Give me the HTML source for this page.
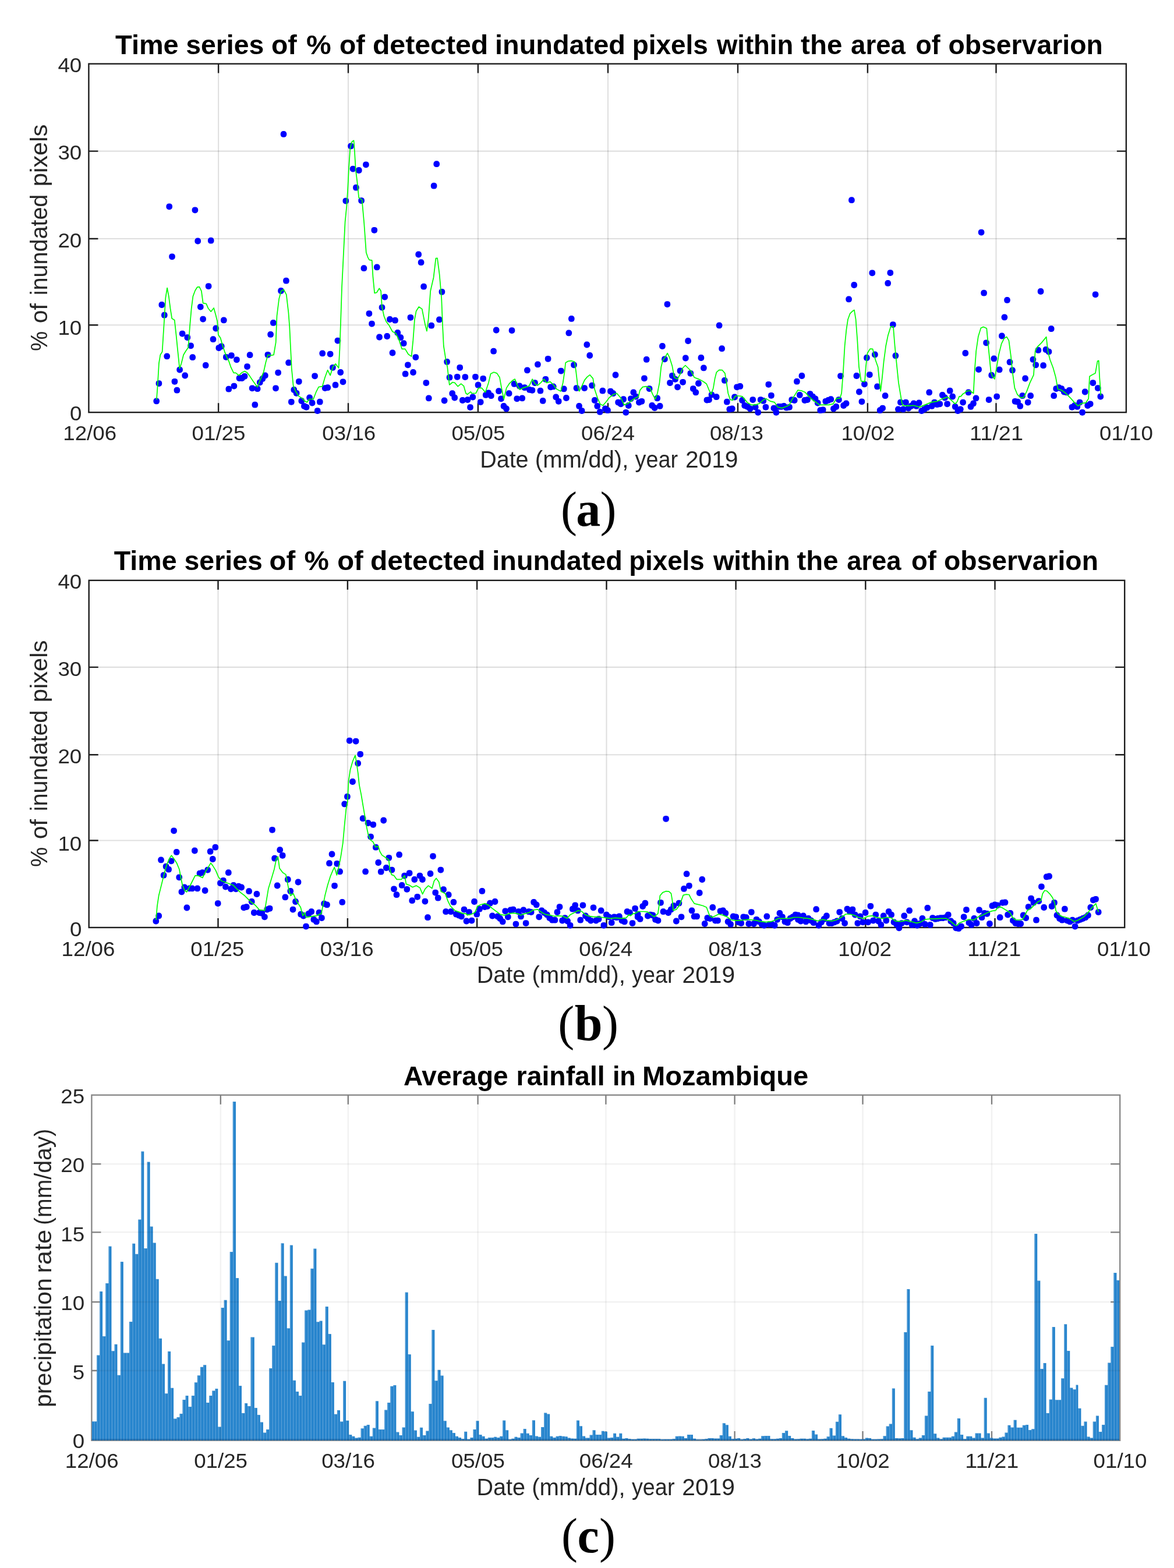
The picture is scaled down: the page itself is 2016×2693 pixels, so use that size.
<!DOCTYPE html>
<html lang="en"><head><meta charset="utf-8"><title>Time series of inundated pixels and rainfall</title>
<style>html,body{margin:0;padding:0;background:#fff}body{width:2016px;height:2693px;overflow:hidden}svg{display:block}</style></head><body>
<svg width="2016" height="2693" viewBox="0 0 2016 2693" role="img" aria-label="Time series of inundated pixels and average rainfall in Mozambique">
<rect width="2016" height="2693" fill="#fff"/>
<g id="chart-a">
<path d="M375.1 109.6V708.2M598 109.6V708.2M820.9 109.6V708.2M1044 109.6V708.2M1267 109.6V708.2M1489.9 109.6V708.2M1710.5 109.6V708.2" stroke="#000" stroke-opacity="0.125" stroke-width="2.1" fill="none"/>
<path d="M152.4 558.2H1933.9M152.4 410H1933.9M152.4 259.6H1933.9" stroke="#000" stroke-opacity="0.125" stroke-width="2.1" fill="none"/>
<path d="M375.1 708.2v-16M375.1 109.6v16M598 708.2v-16M598 109.6v16M820.9 708.2v-16M820.9 109.6v16M1044 708.2v-16M1044 109.6v16M1267 708.2v-16M1267 109.6v16M1489.9 708.2v-16M1489.9 109.6v16M1710.5 708.2v-16M1710.5 109.6v16M152.4 558.2h16M1933.9 558.2h-16M152.4 410h16M1933.9 410h-16M152.4 259.6h16M1933.9 259.6h-16" stroke="#1c1c1c" stroke-width="2.4" fill="none"/>
<rect x="152.4" y="109.6" width="1781.5" height="598.6" stroke="#1c1c1c" stroke-width="2.4" fill="none"/>
<g fill="#0000ff">
<rect x="263.4" y="683.5" width="10.6" height="10.8" rx="4.7"/>
<rect x="267.6" y="653.2" width="10.6" height="10.8" rx="4.7"/>
<rect x="272.5" y="518.1" width="10.6" height="10.8" rx="4.7"/>
<rect x="277" y="535.8" width="10.6" height="10.8" rx="4.7"/>
<rect x="281.4" y="606.5" width="10.6" height="10.8" rx="4.7"/>
<rect x="294.6" y="649.9" width="10.6" height="10.8" rx="4.7"/>
<rect x="298.6" y="664.8" width="10.6" height="10.8" rx="4.7"/>
<rect x="303.3" y="629.7" width="10.6" height="10.8" rx="4.7"/>
<rect x="307.8" y="567.7" width="10.6" height="10.8" rx="4.7"/>
<rect x="312.4" y="639.6" width="10.6" height="10.8" rx="4.7"/>
<rect x="316.5" y="574.2" width="10.6" height="10.8" rx="4.7"/>
<rect x="322.3" y="588.4" width="10.6" height="10.8" rx="4.7"/>
<rect x="325.4" y="608.3" width="10.6" height="10.8" rx="4.7"/>
<rect x="339" y="521.7" width="10.6" height="10.8" rx="4.7"/>
<rect x="343.3" y="542.7" width="10.6" height="10.8" rx="4.7"/>
<rect x="347.9" y="622" width="10.6" height="10.8" rx="4.7"/>
<rect x="352.8" y="486.2" width="10.6" height="10.8" rx="4.7"/>
<rect x="360.7" y="577.3" width="10.6" height="10.8" rx="4.7"/>
<rect x="365.4" y="558.6" width="10.6" height="10.8" rx="4.7"/>
<rect x="370.5" y="592.2" width="10.6" height="10.8" rx="4.7"/>
<rect x="374.9" y="589.4" width="10.6" height="10.8" rx="4.7"/>
<rect x="379" y="544.5" width="10.6" height="10.8" rx="4.7"/>
<rect x="383" y="607.9" width="10.6" height="10.8" rx="4.7"/>
<rect x="387.5" y="662.8" width="10.6" height="10.8" rx="4.7"/>
<rect x="392.1" y="605.2" width="10.6" height="10.8" rx="4.7"/>
<rect x="396.6" y="657.7" width="10.6" height="10.8" rx="4.7"/>
<rect x="401.1" y="612.4" width="10.6" height="10.8" rx="4.7"/>
<rect x="405.7" y="644.1" width="10.6" height="10.8" rx="4.7"/>
<rect x="410.2" y="644.1" width="10.6" height="10.8" rx="4.7"/>
<rect x="414.7" y="640.9" width="10.6" height="10.8" rx="4.7"/>
<rect x="419.2" y="624.2" width="10.6" height="10.8" rx="4.7"/>
<rect x="423.8" y="604.3" width="10.6" height="10.8" rx="4.7"/>
<rect x="427.8" y="661.4" width="10.6" height="10.8" rx="4.7"/>
<rect x="432.5" y="689.8" width="10.6" height="10.8" rx="4.7"/>
<rect x="436.8" y="662.3" width="10.6" height="10.8" rx="4.7"/>
<rect x="441" y="651.4" width="10.6" height="10.8" rx="4.7"/>
<rect x="445.5" y="645.1" width="10.6" height="10.8" rx="4.7"/>
<rect x="450" y="639.6" width="10.6" height="10.8" rx="4.7"/>
<rect x="454.6" y="603.9" width="10.6" height="10.8" rx="4.7"/>
<rect x="459.3" y="569" width="10.6" height="10.8" rx="4.7"/>
<rect x="464" y="549" width="10.6" height="10.8" rx="4.7"/>
<rect x="468.2" y="661.4" width="10.6" height="10.8" rx="4.7"/>
<rect x="472.3" y="634.7" width="10.6" height="10.8" rx="4.7"/>
<rect x="477.2" y="494.1" width="10.6" height="10.8" rx="4.7"/>
<rect x="486.1" y="476.8" width="10.6" height="10.8" rx="4.7"/>
<rect x="490.3" y="617.5" width="10.6" height="10.8" rx="4.7"/>
<rect x="495" y="684.9" width="10.6" height="10.8" rx="4.7"/>
<rect x="499.5" y="664.1" width="10.6" height="10.8" rx="4.7"/>
<rect x="503.8" y="669.9" width="10.6" height="10.8" rx="4.7"/>
<rect x="508" y="649.9" width="10.6" height="10.8" rx="4.7"/>
<rect x="512.5" y="683.1" width="10.6" height="10.8" rx="4.7"/>
<rect x="517.1" y="692.2" width="10.6" height="10.8" rx="4.7"/>
<rect x="285.4" y="349.4" width="10.6" height="10.8" rx="4.7"/>
<rect x="290.2" y="435.4" width="10.6" height="10.8" rx="4.7"/>
<rect x="329.6" y="355.4" width="10.6" height="10.8" rx="4.7"/>
<rect x="334.4" y="408.6" width="10.6" height="10.8" rx="4.7"/>
<rect x="356.9" y="407.8" width="10.6" height="10.8" rx="4.7"/>
<rect x="481.7" y="225" width="10.6" height="10.8" rx="4.7"/>
<rect x="588.5" y="339.7" width="10.6" height="10.8" rx="4.7"/>
<rect x="597.2" y="245.5" width="10.6" height="10.8" rx="4.7"/>
<rect x="600.8" y="284.7" width="10.6" height="10.8" rx="4.7"/>
<rect x="611" y="287.1" width="10.6" height="10.8" rx="4.7"/>
<rect x="606.1" y="316.8" width="10.6" height="10.8" rx="4.7"/>
<rect x="615.3" y="339.2" width="10.6" height="10.8" rx="4.7"/>
<rect x="623.1" y="277.4" width="10.6" height="10.8" rx="4.7"/>
<rect x="520.8" y="693.9" width="10.6" height="10.8" rx="4.7"/>
<rect x="526.3" y="677.6" width="10.6" height="10.8" rx="4.7"/>
<rect x="530.8" y="686.6" width="10.6" height="10.8" rx="4.7"/>
<rect x="535.3" y="640.4" width="10.6" height="10.8" rx="4.7"/>
<rect x="539.9" y="700.2" width="10.6" height="10.8" rx="4.7"/>
<rect x="544" y="684.8" width="10.6" height="10.8" rx="4.7"/>
<rect x="548.4" y="601.5" width="10.6" height="10.8" rx="4.7"/>
<rect x="552.9" y="661.2" width="10.6" height="10.8" rx="4.7"/>
<rect x="557.4" y="660.3" width="10.6" height="10.8" rx="4.7"/>
<rect x="561.8" y="602.7" width="10.6" height="10.8" rx="4.7"/>
<rect x="566.1" y="625.9" width="10.6" height="10.8" rx="4.7"/>
<rect x="570.7" y="655.8" width="10.6" height="10.8" rx="4.7"/>
<rect x="574.6" y="579.7" width="10.6" height="10.8" rx="4.7"/>
<rect x="579.4" y="634.1" width="10.6" height="10.8" rx="4.7"/>
<rect x="583.7" y="650.4" width="10.6" height="10.8" rx="4.7"/>
<rect x="619.6" y="455.3" width="10.6" height="10.8" rx="4.7"/>
<rect x="628.6" y="533.2" width="10.6" height="10.8" rx="4.7"/>
<rect x="633.2" y="550.7" width="10.6" height="10.8" rx="4.7"/>
<rect x="642" y="453.5" width="10.6" height="10.8" rx="4.7"/>
<rect x="646.2" y="573.6" width="10.6" height="10.8" rx="4.7"/>
<rect x="650.7" y="522.7" width="10.6" height="10.8" rx="4.7"/>
<rect x="655.4" y="504.7" width="10.6" height="10.8" rx="4.7"/>
<rect x="659.4" y="572.1" width="10.6" height="10.8" rx="4.7"/>
<rect x="664.1" y="543.1" width="10.6" height="10.8" rx="4.7"/>
<rect x="668.7" y="600.6" width="10.6" height="10.8" rx="4.7"/>
<rect x="673.2" y="544.8" width="10.6" height="10.8" rx="4.7"/>
<rect x="677.5" y="566.1" width="10.6" height="10.8" rx="4.7"/>
<rect x="682.6" y="574.3" width="10.6" height="10.8" rx="4.7"/>
<rect x="687.9" y="584.3" width="10.6" height="10.8" rx="4.7"/>
<rect x="690.8" y="636.8" width="10.6" height="10.8" rx="4.7"/>
<rect x="695.1" y="621.4" width="10.6" height="10.8" rx="4.7"/>
<rect x="699.6" y="539.9" width="10.6" height="10.8" rx="4.7"/>
<rect x="704.2" y="634.1" width="10.6" height="10.8" rx="4.7"/>
<rect x="708.5" y="608.2" width="10.6" height="10.8" rx="4.7"/>
<rect x="717.8" y="445.3" width="10.6" height="10.8" rx="4.7"/>
<rect x="722.3" y="486.8" width="10.6" height="10.8" rx="4.7"/>
<rect x="726.5" y="652.2" width="10.6" height="10.8" rx="4.7"/>
<rect x="731" y="678.5" width="10.6" height="10.8" rx="4.7"/>
<rect x="735.5" y="553.8" width="10.6" height="10.8" rx="4.7"/>
<rect x="749.1" y="543.5" width="10.6" height="10.8" rx="4.7"/>
<rect x="753.6" y="495.9" width="10.6" height="10.8" rx="4.7"/>
<rect x="757.8" y="682.6" width="10.6" height="10.8" rx="4.7"/>
<rect x="762.3" y="616" width="10.6" height="10.8" rx="4.7"/>
<rect x="766.7" y="642.8" width="10.6" height="10.8" rx="4.7"/>
<rect x="771.4" y="670.3" width="10.6" height="10.8" rx="4.7"/>
<rect x="775.4" y="677.6" width="10.6" height="10.8" rx="4.7"/>
<rect x="779.9" y="641.9" width="10.6" height="10.8" rx="4.7"/>
<rect x="784.4" y="625.9" width="10.6" height="10.8" rx="4.7"/>
<rect x="789" y="682.1" width="10.6" height="10.8" rx="4.7"/>
<rect x="793.5" y="642.2" width="10.6" height="10.8" rx="4.7"/>
<rect x="797.7" y="681.2" width="10.6" height="10.8" rx="4.7"/>
<rect x="802.2" y="694.2" width="10.6" height="10.8" rx="4.7"/>
<rect x="806.5" y="676.6" width="10.6" height="10.8" rx="4.7"/>
<rect x="811.1" y="641.9" width="10.6" height="10.8" rx="4.7"/>
<rect x="637.5" y="389.9" width="10.6" height="10.8" rx="4.7"/>
<rect x="713.4" y="431.6" width="10.6" height="10.8" rx="4.7"/>
<rect x="739.8" y="313.8" width="10.6" height="10.8" rx="4.7"/>
<rect x="744.4" y="276.3" width="10.6" height="10.8" rx="4.7"/>
<rect x="815.7" y="655.8" width="10.6" height="10.8" rx="4.7"/>
<rect x="819.9" y="685.2" width="10.6" height="10.8" rx="4.7"/>
<rect x="824.4" y="644.9" width="10.6" height="10.8" rx="4.7"/>
<rect x="828.9" y="673" width="10.6" height="10.8" rx="4.7"/>
<rect x="833.4" y="669.4" width="10.6" height="10.8" rx="4.7"/>
<rect x="838" y="674.3" width="10.6" height="10.8" rx="4.7"/>
<rect x="842.3" y="597.8" width="10.6" height="10.8" rx="4.7"/>
<rect x="846.9" y="561.6" width="10.6" height="10.8" rx="4.7"/>
<rect x="851.2" y="666.3" width="10.6" height="10.8" rx="4.7"/>
<rect x="855.2" y="679.4" width="10.6" height="10.8" rx="4.7"/>
<rect x="859.7" y="692" width="10.6" height="10.8" rx="4.7"/>
<rect x="864.2" y="696.6" width="10.6" height="10.8" rx="4.7"/>
<rect x="868.8" y="670.3" width="10.6" height="10.8" rx="4.7"/>
<rect x="873.7" y="562.2" width="10.6" height="10.8" rx="4.7"/>
<rect x="877.8" y="654" width="10.6" height="10.8" rx="4.7"/>
<rect x="882.4" y="679.4" width="10.6" height="10.8" rx="4.7"/>
<rect x="886.9" y="657.6" width="10.6" height="10.8" rx="4.7"/>
<rect x="891.4" y="678.5" width="10.6" height="10.8" rx="4.7"/>
<rect x="895.6" y="660.3" width="10.6" height="10.8" rx="4.7"/>
<rect x="900.1" y="630.5" width="10.6" height="10.8" rx="4.7"/>
<rect x="904.1" y="664" width="10.6" height="10.8" rx="4.7"/>
<rect x="908.6" y="664.9" width="10.6" height="10.8" rx="4.7"/>
<rect x="913.2" y="652.2" width="10.6" height="10.8" rx="4.7"/>
<rect x="918.1" y="620.5" width="10.6" height="10.8" rx="4.7"/>
<rect x="922.6" y="665.8" width="10.6" height="10.8" rx="4.7"/>
<rect x="926.9" y="683" width="10.6" height="10.8" rx="4.7"/>
<rect x="931.6" y="645.9" width="10.6" height="10.8" rx="4.7"/>
<rect x="935.8" y="610.9" width="10.6" height="10.8" rx="4.7"/>
<rect x="940.3" y="659.4" width="10.6" height="10.8" rx="4.7"/>
<rect x="944.9" y="658.5" width="10.6" height="10.8" rx="4.7"/>
<rect x="949.4" y="676.6" width="10.6" height="10.8" rx="4.7"/>
<rect x="953.9" y="683.9" width="10.6" height="10.8" rx="4.7"/>
<rect x="958.1" y="631.7" width="10.6" height="10.8" rx="4.7"/>
<rect x="963" y="662.5" width="10.6" height="10.8" rx="4.7"/>
<rect x="967.1" y="678.1" width="10.6" height="10.8" rx="4.7"/>
<rect x="971.5" y="566.5" width="10.6" height="10.8" rx="4.7"/>
<rect x="976" y="542" width="10.6" height="10.8" rx="4.7"/>
<rect x="980.2" y="621.4" width="10.6" height="10.8" rx="4.7"/>
<rect x="984.7" y="661.2" width="10.6" height="10.8" rx="4.7"/>
<rect x="989.2" y="692" width="10.6" height="10.8" rx="4.7"/>
<rect x="993.8" y="700.2" width="10.6" height="10.8" rx="4.7"/>
<rect x="998.3" y="661.2" width="10.6" height="10.8" rx="4.7"/>
<rect x="1002.5" y="586.6" width="10.6" height="10.8" rx="4.7"/>
<rect x="1007.4" y="605.1" width="10.6" height="10.8" rx="4.7"/>
<rect x="1011.3" y="656.7" width="10.6" height="10.8" rx="4.7"/>
<rect x="1015.9" y="682.1" width="10.6" height="10.8" rx="4.7"/>
<rect x="1020.4" y="692" width="10.6" height="10.8" rx="4.7"/>
<rect x="1024.9" y="702" width="10.6" height="10.8" rx="4.7"/>
<rect x="1029.5" y="665.8" width="10.6" height="10.8" rx="4.7"/>
<rect x="1034" y="696.6" width="10.6" height="10.8" rx="4.7"/>
<rect x="1038.2" y="699.3" width="10.6" height="10.8" rx="4.7"/>
<rect x="1043.1" y="666.7" width="10.6" height="10.8" rx="4.7"/>
<rect x="1047.6" y="670.3" width="10.6" height="10.8" rx="4.7"/>
<rect x="1051.7" y="638.6" width="10.6" height="10.8" rx="4.7"/>
<rect x="1056.3" y="685.7" width="10.6" height="10.8" rx="4.7"/>
<rect x="1060.8" y="688.4" width="10.6" height="10.8" rx="4.7"/>
<rect x="1065.3" y="680.3" width="10.6" height="10.8" rx="4.7"/>
<rect x="1069.5" y="702.9" width="10.6" height="10.8" rx="4.7"/>
<rect x="1074" y="691.1" width="10.6" height="10.8" rx="4.7"/>
<rect x="1078" y="679.4" width="10.6" height="10.8" rx="4.7"/>
<rect x="1082.5" y="668.5" width="10.6" height="10.8" rx="4.7"/>
<rect x="1086.5" y="675.7" width="10.6" height="10.8" rx="4.7"/>
<rect x="1092.1" y="685.7" width="10.6" height="10.8" rx="4.7"/>
<rect x="1096.6" y="683.9" width="10.6" height="10.8" rx="4.7"/>
<rect x="1101.1" y="644.4" width="10.6" height="10.8" rx="4.7"/>
<rect x="1104.9" y="612" width="10.6" height="10.8" rx="4.7"/>
<rect x="1109.8" y="662.2" width="10.6" height="10.8" rx="4.7"/>
<rect x="1114.4" y="691.1" width="10.6" height="10.8" rx="4.7"/>
<rect x="1118.9" y="695.1" width="10.6" height="10.8" rx="4.7"/>
<rect x="1123.4" y="678.5" width="10.6" height="10.8" rx="4.7"/>
<rect x="1127.9" y="692" width="10.6" height="10.8" rx="4.7"/>
<rect x="1132.1" y="589.1" width="10.6" height="10.8" rx="4.7"/>
<rect x="1136.1" y="611.4" width="10.6" height="10.8" rx="4.7"/>
<rect x="1140.6" y="517.2" width="10.6" height="10.8" rx="4.7"/>
<rect x="1145.2" y="652.2" width="10.6" height="10.8" rx="4.7"/>
<rect x="1149.1" y="639.9" width="10.6" height="10.8" rx="4.7"/>
<rect x="1154.2" y="645.9" width="10.6" height="10.8" rx="4.7"/>
<rect x="1158.2" y="659.4" width="10.6" height="10.8" rx="4.7"/>
<rect x="1162.7" y="631.4" width="10.6" height="10.8" rx="4.7"/>
<rect x="1167.3" y="650.9" width="10.6" height="10.8" rx="4.7"/>
<rect x="1172" y="609.6" width="10.6" height="10.8" rx="4.7"/>
<rect x="1176.3" y="580.1" width="10.6" height="10.8" rx="4.7"/>
<rect x="1180.5" y="635.9" width="10.6" height="10.8" rx="4.7"/>
<rect x="1185" y="662.2" width="10.6" height="10.8" rx="4.7"/>
<rect x="1189.5" y="668.5" width="10.6" height="10.8" rx="4.7"/>
<rect x="1194.1" y="653.1" width="10.6" height="10.8" rx="4.7"/>
<rect x="1198.6" y="609.1" width="10.6" height="10.8" rx="4.7"/>
<rect x="1203.1" y="626.5" width="10.6" height="10.8" rx="4.7"/>
<rect x="1208.6" y="681.7" width="10.6" height="10.8" rx="4.7"/>
<rect x="1212.2" y="681.2" width="10.6" height="10.8" rx="4.7"/>
<rect x="1216.7" y="672.7" width="10.6" height="10.8" rx="4.7"/>
<rect x="1224.9" y="676.3" width="10.6" height="10.8" rx="4.7"/>
<rect x="1229.8" y="553.5" width="10.6" height="10.8" rx="4.7"/>
<rect x="1234.3" y="593.3" width="10.6" height="10.8" rx="4.7"/>
<rect x="1239" y="648" width="10.6" height="10.8" rx="4.7"/>
<rect x="1243" y="684.8" width="10.6" height="10.8" rx="4.7"/>
<rect x="1247.5" y="697.5" width="10.6" height="10.8" rx="4.7"/>
<rect x="1252" y="696.6" width="10.6" height="10.8" rx="4.7"/>
<rect x="1256.2" y="676.6" width="10.6" height="10.8" rx="4.7"/>
<rect x="1260.2" y="659.4" width="10.6" height="10.8" rx="4.7"/>
<rect x="1265.6" y="658" width="10.6" height="10.8" rx="4.7"/>
<rect x="1269.2" y="682.1" width="10.6" height="10.8" rx="4.7"/>
<rect x="1273.4" y="691.1" width="10.6" height="10.8" rx="4.7"/>
<rect x="1278.3" y="693" width="10.6" height="10.8" rx="4.7"/>
<rect x="1282.8" y="696.6" width="10.6" height="10.8" rx="4.7"/>
<rect x="1287.4" y="681.2" width="10.6" height="10.8" rx="4.7"/>
<rect x="1291.9" y="693.9" width="10.6" height="10.8" rx="4.7"/>
<rect x="1296.4" y="702.9" width="10.6" height="10.8" rx="4.7"/>
<rect x="1300.9" y="681.2" width="10.6" height="10.8" rx="4.7"/>
<rect x="1305.5" y="683" width="10.6" height="10.8" rx="4.7"/>
<rect x="1309.6" y="693.9" width="10.6" height="10.8" rx="4.7"/>
<rect x="1314.5" y="654.9" width="10.6" height="10.8" rx="4.7"/>
<rect x="1319.1" y="673.9" width="10.6" height="10.8" rx="4.7"/>
<rect x="1323.6" y="695.7" width="10.6" height="10.8" rx="4.7"/>
<rect x="1327.6" y="702.9" width="10.6" height="10.8" rx="4.7"/>
<rect x="1331.7" y="693" width="10.6" height="10.8" rx="4.7"/>
<rect x="1336.3" y="693" width="10.6" height="10.8" rx="4.7"/>
<rect x="1340.8" y="692" width="10.6" height="10.8" rx="4.7"/>
<rect x="1345.3" y="694.8" width="10.6" height="10.8" rx="4.7"/>
<rect x="1350.2" y="693.9" width="10.6" height="10.8" rx="4.7"/>
<rect x="1354.4" y="681.2" width="10.6" height="10.8" rx="4.7"/>
<rect x="1358.9" y="682.1" width="10.6" height="10.8" rx="4.7"/>
<rect x="1363.1" y="649.8" width="10.6" height="10.8" rx="4.7"/>
<rect x="1368" y="673" width="10.6" height="10.8" rx="4.7"/>
<rect x="1371.6" y="640.1" width="10.6" height="10.8" rx="4.7"/>
<rect x="1376.6" y="682.1" width="10.6" height="10.8" rx="4.7"/>
<rect x="1381.1" y="681.2" width="10.6" height="10.8" rx="4.7"/>
<rect x="1385.7" y="671.2" width="10.6" height="10.8" rx="4.7"/>
<rect x="1390.2" y="675.7" width="10.6" height="10.8" rx="4.7"/>
<rect x="1394.7" y="679.4" width="10.6" height="10.8" rx="4.7"/>
<rect x="1398.9" y="686.6" width="10.6" height="10.8" rx="4.7"/>
<rect x="1403.4" y="699.3" width="10.6" height="10.8" rx="4.7"/>
<rect x="1407.9" y="698.4" width="10.6" height="10.8" rx="4.7"/>
<rect x="1412.5" y="683.9" width="10.6" height="10.8" rx="4.7"/>
<rect x="1417" y="682.1" width="10.6" height="10.8" rx="4.7"/>
<rect x="1421.5" y="680.3" width="10.6" height="10.8" rx="4.7"/>
<rect x="1426.1" y="696.6" width="10.6" height="10.8" rx="4.7"/>
<rect x="1430.6" y="693" width="10.6" height="10.8" rx="4.7"/>
<rect x="1435.1" y="681.2" width="10.6" height="10.8" rx="4.7"/>
<rect x="1438.2" y="640.4" width="10.6" height="10.8" rx="4.7"/>
<rect x="1443.3" y="691.1" width="10.6" height="10.8" rx="4.7"/>
<rect x="1447.8" y="687.5" width="10.6" height="10.8" rx="4.7"/>
<rect x="1452.3" y="508.5" width="10.6" height="10.8" rx="4.7"/>
<rect x="1461.4" y="484.1" width="10.6" height="10.8" rx="4.7"/>
<rect x="1465.6" y="640.1" width="10.6" height="10.8" rx="4.7"/>
<rect x="1470.1" y="667.6" width="10.6" height="10.8" rx="4.7"/>
<rect x="1474.6" y="684.4" width="10.6" height="10.8" rx="4.7"/>
<rect x="1479.1" y="654.4" width="10.6" height="10.8" rx="4.7"/>
<rect x="1483.1" y="609.1" width="10.6" height="10.8" rx="4.7"/>
<rect x="1488" y="638.2" width="10.6" height="10.8" rx="4.7"/>
<rect x="1492.5" y="463.4" width="10.6" height="10.8" rx="4.7"/>
<rect x="1497.1" y="603.6" width="10.6" height="10.8" rx="4.7"/>
<rect x="1501.2" y="658.5" width="10.6" height="10.8" rx="4.7"/>
<rect x="1505.8" y="699.3" width="10.6" height="10.8" rx="4.7"/>
<rect x="1510.3" y="695.7" width="10.6" height="10.8" rx="4.7"/>
<rect x="1514.8" y="674.3" width="10.6" height="10.8" rx="4.7"/>
<rect x="1519.4" y="481" width="10.6" height="10.8" rx="4.7"/>
<rect x="1523.5" y="463.2" width="10.6" height="10.8" rx="4.7"/>
<rect x="1528.1" y="552.2" width="10.6" height="10.8" rx="4.7"/>
<rect x="1532.6" y="605.5" width="10.6" height="10.8" rx="4.7"/>
<rect x="1537.1" y="697.5" width="10.6" height="10.8" rx="4.7"/>
<rect x="1541.1" y="685.7" width="10.6" height="10.8" rx="4.7"/>
<rect x="1545.6" y="697.5" width="10.6" height="10.8" rx="4.7"/>
<rect x="1550.2" y="685.7" width="10.6" height="10.8" rx="4.7"/>
<rect x="1554.7" y="695.7" width="10.6" height="10.8" rx="4.7"/>
<rect x="1559.2" y="692" width="10.6" height="10.8" rx="4.7"/>
<rect x="1563.7" y="687.5" width="10.6" height="10.8" rx="4.7"/>
<rect x="1568.3" y="692" width="10.6" height="10.8" rx="4.7"/>
<rect x="1572.8" y="686.6" width="10.6" height="10.8" rx="4.7"/>
<rect x="1577.3" y="700.2" width="10.6" height="10.8" rx="4.7"/>
<rect x="1581.9" y="697.5" width="10.6" height="10.8" rx="4.7"/>
<rect x="1586.4" y="694.8" width="10.6" height="10.8" rx="4.7"/>
<rect x="1590.4" y="668.5" width="10.6" height="10.8" rx="4.7"/>
<rect x="1594.9" y="692" width="10.6" height="10.8" rx="4.7"/>
<rect x="1599.4" y="685.7" width="10.6" height="10.8" rx="4.7"/>
<rect x="1604" y="689.3" width="10.6" height="10.8" rx="4.7"/>
<rect x="1608.5" y="688.4" width="10.6" height="10.8" rx="4.7"/>
<rect x="1613" y="673" width="10.6" height="10.8" rx="4.7"/>
<rect x="1617.2" y="677.6" width="10.6" height="10.8" rx="4.7"/>
<rect x="1621.3" y="688.4" width="10.6" height="10.8" rx="4.7"/>
<rect x="1625.9" y="665.8" width="10.6" height="10.8" rx="4.7"/>
<rect x="1630.4" y="675.7" width="10.6" height="10.8" rx="4.7"/>
<rect x="1634.9" y="693" width="10.6" height="10.8" rx="4.7"/>
<rect x="1639.5" y="700.2" width="10.6" height="10.8" rx="4.7"/>
<rect x="1644" y="697.5" width="10.6" height="10.8" rx="4.7"/>
<rect x="1648.3" y="685.7" width="10.6" height="10.8" rx="4.7"/>
<rect x="1652.5" y="601.1" width="10.6" height="10.8" rx="4.7"/>
<rect x="1457.1" y="338.3" width="10.6" height="10.8" rx="4.7"/>
<rect x="1679.8" y="393.7" width="10.6" height="10.8" rx="4.7"/>
<rect x="1657.7" y="668.5" width="10.6" height="10.8" rx="4.7"/>
<rect x="1661.7" y="693" width="10.6" height="10.8" rx="4.7"/>
<rect x="1666.2" y="687.5" width="10.6" height="10.8" rx="4.7"/>
<rect x="1670.7" y="678.5" width="10.6" height="10.8" rx="4.7"/>
<rect x="1675.3" y="629.2" width="10.6" height="10.8" rx="4.7"/>
<rect x="1684.3" y="497.8" width="10.6" height="10.8" rx="4.7"/>
<rect x="1688.3" y="583.4" width="10.6" height="10.8" rx="4.7"/>
<rect x="1692.8" y="681.2" width="10.6" height="10.8" rx="4.7"/>
<rect x="1697.4" y="639.1" width="10.6" height="10.8" rx="4.7"/>
<rect x="1701.5" y="610.5" width="10.6" height="10.8" rx="4.7"/>
<rect x="1706.4" y="675.7" width="10.6" height="10.8" rx="4.7"/>
<rect x="1710.9" y="629.5" width="10.6" height="10.8" rx="4.7"/>
<rect x="1715.1" y="571.6" width="10.6" height="10.8" rx="4.7"/>
<rect x="1719.6" y="539.5" width="10.6" height="10.8" rx="4.7"/>
<rect x="1724.2" y="510" width="10.6" height="10.8" rx="4.7"/>
<rect x="1728.7" y="616.5" width="10.6" height="10.8" rx="4.7"/>
<rect x="1733.2" y="630.5" width="10.6" height="10.8" rx="4.7"/>
<rect x="1737.8" y="683.9" width="10.6" height="10.8" rx="4.7"/>
<rect x="1742.3" y="684.8" width="10.6" height="10.8" rx="4.7"/>
<rect x="1746.5" y="692" width="10.6" height="10.8" rx="4.7"/>
<rect x="1750.4" y="674.3" width="10.6" height="10.8" rx="4.7"/>
<rect x="1755.3" y="644.6" width="10.6" height="10.8" rx="4.7"/>
<rect x="1759.9" y="685.7" width="10.6" height="10.8" rx="4.7"/>
<rect x="1764.4" y="674.3" width="10.6" height="10.8" rx="4.7"/>
<rect x="1768.6" y="612" width="10.6" height="10.8" rx="4.7"/>
<rect x="1773.4" y="621.4" width="10.6" height="10.8" rx="4.7"/>
<rect x="1777.6" y="596" width="10.6" height="10.8" rx="4.7"/>
<rect x="1781.8" y="495.1" width="10.6" height="10.8" rx="4.7"/>
<rect x="1786.3" y="622.3" width="10.6" height="10.8" rx="4.7"/>
<rect x="1790.7" y="595.1" width="10.6" height="10.8" rx="4.7"/>
<rect x="1795.7" y="598.7" width="10.6" height="10.8" rx="4.7"/>
<rect x="1799.9" y="559.3" width="10.6" height="10.8" rx="4.7"/>
<rect x="1804.4" y="674.3" width="10.6" height="10.8" rx="4.7"/>
<rect x="1808.4" y="662.2" width="10.6" height="10.8" rx="4.7"/>
<rect x="1812.9" y="660.3" width="10.6" height="10.8" rx="4.7"/>
<rect x="1817.5" y="662.2" width="10.6" height="10.8" rx="4.7"/>
<rect x="1822" y="667.6" width="10.6" height="10.8" rx="4.7"/>
<rect x="1826.5" y="668.5" width="10.6" height="10.8" rx="4.7"/>
<rect x="1831.1" y="664.9" width="10.6" height="10.8" rx="4.7"/>
<rect x="1835.6" y="693.9" width="10.6" height="10.8" rx="4.7"/>
<rect x="1840.1" y="691.1" width="10.6" height="10.8" rx="4.7"/>
<rect x="1844.6" y="693" width="10.6" height="10.8" rx="4.7"/>
<rect x="1848.8" y="685.7" width="10.6" height="10.8" rx="4.7"/>
<rect x="1853.3" y="702.9" width="10.6" height="10.8" rx="4.7"/>
<rect x="1857.9" y="667.6" width="10.6" height="10.8" rx="4.7"/>
<rect x="1862.4" y="691.1" width="10.6" height="10.8" rx="4.7"/>
<rect x="1866.9" y="688.4" width="10.6" height="10.8" rx="4.7"/>
<rect x="1871.5" y="652.2" width="10.6" height="10.8" rx="4.7"/>
<rect x="1875.8" y="500.4" width="10.6" height="10.8" rx="4.7"/>
<rect x="1880" y="661.2" width="10.6" height="10.8" rx="4.7"/>
<rect x="1884.5" y="675.7" width="10.6" height="10.8" rx="4.7"/>
</g>
<polyline fill="none" stroke="#00ff00" stroke-width="1.7" stroke-linejoin="round" points="268.9,686.5 270.8,660.2 272.9,624 275.3,609.5 278.6,604.1 281.6,557 284.3,511.7 287.1,494.5 289.8,508.9 292.5,529.8 295.2,547 299.7,549.7 302.5,575.1 305.2,602.2 308.4,633 311.5,624 315.1,609.5 318.8,603.2 323.3,596.8 326,560.6 328.7,529.8 331.4,508.9 335.1,499 338.7,493.2 342.3,492.6 345.9,499.9 348.7,520.7 354.1,521.6 357.7,529.8 362.2,535.2 367.1,528.9 370.4,540.7 373.1,551.5 374.9,575.1 378.6,580.5 382.2,593.2 385.8,604.1 389.4,613.1 393,620.4 396.7,631.2 401.2,640.3 404.8,640.3 410.3,644.8 414.8,640.3 420.2,637.6 424.7,640.3 429.3,646.6 434.7,654.8 442,664.7 447.4,651.2 452.8,638.5 456.4,622.2 460.1,609.5 465.5,610.4 470,609.5 473.7,587.8 475.5,542.5 479.1,513.5 482.7,499.9 487.2,497.2 491.8,506.2 495.4,537 497.2,560.6 500.8,633 503.6,662 507.2,671.1 512.6,680.1 519.9,684.7 522.7,688.2 527.2,690.9 530.9,685.5 538.1,685.5 542.6,673.7 547.2,664.6 553.5,663.7 558,648.3 562.6,635.7 567.1,644.7 571.6,630.2 576.2,624.8 581.6,632 583.4,599.4 585.2,548.7 587,494.3 588.8,458.1 592.6,381.2 595.3,354 597.1,326.8 598.9,290.6 601.3,254.3 604.4,243.5 607.5,241.3 608.9,259.8 610.7,290.6 613.4,312.3 616.2,339.5 621.6,343.1 623.4,363 625.2,383 627,408.3 628.8,433.7 631.6,441.8 634.1,446.3 638.7,447.2 640.5,476.2 643.2,503.4 646.8,502.5 651.3,495.3 654.1,499.8 655.9,527 659.5,543.3 663.1,552.3 668.6,559.6 674,569.5 679.4,572.2 684.9,583.1 690.3,599.4 695.7,599.4 701.2,608.5 706.6,612.1 709.3,584.9 712,548.7 714.7,534.2 719.3,527 724.7,530.6 730.1,557.8 732.9,568.6 735.6,548.7 739.2,499.8 744.6,476.2 748.4,443.7 751,443.3 754.7,471.7 758.2,512.5 760,557.8 761.8,594 765.5,617.5 768.2,630.2 771.8,661 777.2,656.5 780.9,657.4 786.3,663.7 791.7,659.2 796.3,662.8 800,675.5 802.6,677.3 808.2,672.8 809.9,675.5 812.7,675.5 817.1,675.5 821.7,666.4 827.2,666.4 833.5,673.7 838.9,657.4 842.6,642 848,639.3 853.4,641.1 858,648.3 861.6,668.3 865.2,685.5 869.7,666.4 874.3,659.2 879.7,653.8 884.2,651.1 888.8,662.8 892.4,669.2 897.8,666.4 903.3,664.6 908.7,662.8 914.1,651.1 918.7,659.2 923.2,661.9 928.6,657.4 934.1,651.1 938.6,657.4 944.9,655.6 950.4,661 955.8,668.3 963,671.9 966.7,657.4 969.4,639.3 971.2,623 975.7,620.3 981.2,619.7 986.6,621.2 989.3,639.3 992,662.8 994.7,671.9 999.3,662.8 1003.8,652.9 1008.3,647.4 1012.9,643.8 1018.3,650.1 1021,668.3 1026.4,684.6 1031,694.5 1035.5,696.3 1040.9,690 1046.4,682.8 1053.6,677.3 1059.1,675.5 1066.3,683.7 1071.7,695.4 1079,692.7 1085.4,687.3 1090.9,683.7 1093.5,682.8 1096.3,680.9 1099,670.1 1103.6,664.6 1109.9,663.7 1116.2,666.4 1120.8,677.3 1125.3,685.5 1128.9,675.5 1132.5,657.4 1135.3,630.2 1138,619.3 1142.5,613 1146.1,606.7 1149.7,613.9 1154.3,628.4 1157.9,648.3 1163.3,651.1 1168.8,641.1 1172.4,632 1176.9,627.5 1181.4,632 1186.9,637.5 1192.3,648.3 1199.6,651.1 1206.8,654.7 1213.2,659.2 1217.7,670.1 1221.3,677.3 1224.9,666.4 1227.6,650.1 1230.4,639.3 1234.9,635.3 1240.3,635.7 1244.9,641.1 1247.6,657.4 1250.3,675.5 1253.9,686.4 1258.4,687.3 1263,680 1268.4,680 1274.7,680.9 1279.3,686.4 1283.8,691.8 1290.1,695.4 1297.4,695.4 1304.6,692.7 1310.1,687.3 1315.5,684.6 1322.8,689.1 1330,690.9 1335.4,699.1 1342.7,700.9 1349.9,698.2 1355.4,695.4 1359.9,686.4 1364.5,679.1 1370,670.1 1376.3,671 1382.6,673.7 1389,680.9 1396.2,687.3 1402.6,691.8 1407.1,695.4 1414.3,695.4 1423.4,695.4 1430.7,693.6 1436.1,684.6 1442.4,683.7 1445.1,675.5 1447.9,639.3 1450.6,594 1453.3,566.8 1456,548.7 1459.6,538.7 1464.2,534.2 1466.9,532.4 1469.6,548.7 1472.3,584.9 1475,630.2 1478.7,654.7 1485,655.6 1486.8,630.2 1489.5,606.7 1494.1,599.1 1498.6,599.4 1503.1,617.5 1507.6,630.2 1510.4,657.4 1512.2,671.9 1514.9,648.3 1517.6,621.2 1521.2,594 1524.9,575.9 1529.4,561.4 1533.9,560.5 1536.6,594 1539.3,621.2 1543,657.4 1548.4,690 1550.2,696.3 1559.3,697.2 1568.3,696.3 1579.2,699.1 1588.3,695.4 1599.1,690.9 1610,689.1 1619.1,684.6 1627.2,681.8 1633.6,687.3 1640,693.6 1643.6,690 1647.2,680.9 1649.9,680.9 1653.6,676.4 1657.1,674.6 1659,671.9 1665.4,671 1671.7,675.5 1673.5,639.3 1676.2,603 1679.9,577.7 1684.4,563.2 1688.9,561.4 1694.3,564.1 1696.2,584.9 1698.9,612.1 1701.6,639.3 1704.3,646.5 1707.9,651.1 1711.6,630.2 1715.2,608.5 1719.7,590.4 1724.2,581.3 1728.8,578.6 1732.4,584.9 1736,612.1 1738.7,639.3 1742.4,666.4 1746.9,677.3 1752.3,682.8 1757.8,682.8 1763.2,671.9 1768.6,657.4 1775,643.8 1777.7,603 1781.3,595.8 1788.6,588.6 1796.7,578.6 1799.4,603 1803,617.5 1808.5,632 1813,648.3 1816.6,668.3 1823,670.1 1830.2,675.5 1837.5,682.8 1844.7,690.9 1851.1,697.2 1857.4,692.7 1864.6,691.8 1869.2,684.6 1871,646.5 1875.5,643.8 1880.9,641.1 1884.6,620.3 1886.7,619.3 1888.2,648.3 1890.4,679.1"/>
<g font-family='"Liberation Sans", Arial, Helvetica, sans-serif' font-size="35.6" fill="#262626">
<g text-anchor="middle">
<text x="154.2" y="755.8" textLength="91.9" lengthAdjust="spacingAndGlyphs">12/06</text>
<text x="375.5" y="755.8" textLength="91.9" lengthAdjust="spacingAndGlyphs">01/25</text>
<text x="599.3" y="755.8" textLength="91.9" lengthAdjust="spacingAndGlyphs">03/16</text>
<text x="821.4" y="755.8" textLength="91.9" lengthAdjust="spacingAndGlyphs">05/05</text>
<text x="1044" y="755.8" textLength="91.9" lengthAdjust="spacingAndGlyphs">06/24</text>
<text x="1264.9" y="755.8" textLength="91.9" lengthAdjust="spacingAndGlyphs">08/13</text>
<text x="1490.4" y="755.8" textLength="91.9" lengthAdjust="spacingAndGlyphs">10/02</text>
<text x="1711" y="755.8" textLength="91.9" lengthAdjust="spacingAndGlyphs">11/21</text>
<text x="1934" y="755.8" textLength="91.9" lengthAdjust="spacingAndGlyphs">01/10</text>
</g><g text-anchor="end">
<text x="140.3" y="722.2" textLength="20.4" lengthAdjust="spacingAndGlyphs">0</text>
<text x="140.3" y="575" textLength="40.9" lengthAdjust="spacingAndGlyphs">10</text>
<text x="140.3" y="424.6" textLength="40.9" lengthAdjust="spacingAndGlyphs">20</text>
<text x="140.3" y="273.9" textLength="40.9" lengthAdjust="spacingAndGlyphs">30</text>
<text x="140.3" y="123.8" textLength="40.9" lengthAdjust="spacingAndGlyphs">40</text>
</g>
</g>
<text y="802.9" font-family='"Liberation Sans", Arial, Helvetica, sans-serif' font-size="39.8" fill="#262626"><tspan x="824.2" textLength="83.4" lengthAdjust="spacingAndGlyphs">Date</tspan> <tspan x="918.8" textLength="160.5" lengthAdjust="spacingAndGlyphs">(mm/dd),</tspan> <tspan x="1090.5" textLength="73.6" lengthAdjust="spacingAndGlyphs">year</tspan> <tspan x="1176.9" textLength="90.6" lengthAdjust="spacingAndGlyphs">2019</tspan></text>
<text transform="translate(81 0) rotate(-90)" y="0" font-family='"Liberation Sans", Arial, Helvetica, sans-serif' font-size="40.6" fill="#262626"><tspan x="-602.9" textLength="34.2" lengthAdjust="spacingAndGlyphs">%</tspan> <tspan x="-555.2" textLength="34.1" lengthAdjust="spacingAndGlyphs">of</tspan> <tspan x="-507.2" textLength="173.5" lengthAdjust="spacingAndGlyphs">inundated</tspan> <tspan x="-320.3" textLength="106.8" lengthAdjust="spacingAndGlyphs">pixels</tspan></text>
<text y="92.7" font-family='"Liberation Sans", Arial, Helvetica, sans-serif' font-weight="bold" font-size="46.9" fill="#000"><tspan x="198.1">Time</tspan> <tspan x="319.3" textLength="134" lengthAdjust="spacingAndGlyphs">series</tspan> <tspan x="466" textLength="43.7" lengthAdjust="spacingAndGlyphs">of</tspan> <tspan x="526.1" textLength="42.7" lengthAdjust="spacingAndGlyphs">%</tspan> <tspan x="583.1" textLength="43.7" lengthAdjust="spacingAndGlyphs">of</tspan> <tspan x="639.9" textLength="198.4" lengthAdjust="spacingAndGlyphs">detected</tspan> <tspan x="850">inundated</tspan> <tspan x="1085.7" textLength="130.2" lengthAdjust="spacingAndGlyphs">pixels</tspan> <tspan x="1230.9" textLength="131.4" lengthAdjust="spacingAndGlyphs">within</tspan> <tspan x="1375.1" textLength="71.2" lengthAdjust="spacingAndGlyphs">the</tspan> <tspan x="1461" textLength="93.9" lengthAdjust="spacingAndGlyphs">area</tspan> <tspan x="1572.4" textLength="42.1" lengthAdjust="spacingAndGlyphs">of</tspan> <tspan x="1628.4" textLength="265.4" lengthAdjust="spacingAndGlyphs">observarion</tspan></text>
<text y="903.3" text-anchor="middle" font-family='"Liberation Serif", "DejaVu Serif", serif' font-size="84" fill="#000"><tspan x="977">(</tspan><tspan x="1010.3" font-weight="bold" font-size="84">a</tspan><tspan x="1044.4">)</tspan></text>
</g>
<g id="chart-b">
<path d="M374.5 996.8V1593M596.9 996.8V1593M819.1 996.8V1593M1041.5 996.8V1593M1263.6 996.8V1593M1486.3 996.8V1593M1708.5 996.8V1593" stroke="#000" stroke-opacity="0.125" stroke-width="2.1" fill="none"/>
<path d="M152.7 1443.5H1931.2M152.7 1296.3H1931.2M152.7 1145.9H1931.2" stroke="#000" stroke-opacity="0.125" stroke-width="2.1" fill="none"/>
<path d="M374.5 1593v-16M374.5 996.8v16M596.9 1593v-16M596.9 996.8v16M819.1 1593v-16M819.1 996.8v16M1041.5 1593v-16M1041.5 996.8v16M1263.6 1593v-16M1263.6 996.8v16M1486.3 1593v-16M1486.3 996.8v16M1708.5 1593v-16M1708.5 996.8v16M152.7 1443.5h16M1931.2 1443.5h-16M152.7 1296.3h16M1931.2 1296.3h-16M152.7 1145.9h16M1931.2 1145.9h-16" stroke="#1c1c1c" stroke-width="2.4" fill="none"/>
<rect x="152.7" y="996.8" width="1778.5" height="596.2" stroke="#1c1c1c" stroke-width="2.4" fill="none"/>
<g fill="#0000ff">
<rect x="262.5" y="1576.6" width="10.6" height="10.8" rx="4.7"/>
<rect x="267.4" y="1567.6" width="10.6" height="10.8" rx="4.7"/>
<rect x="271.2" y="1471.5" width="10.6" height="10.8" rx="4.7"/>
<rect x="275.8" y="1497.8" width="10.6" height="10.8" rx="4.7"/>
<rect x="279.8" y="1482.8" width="10.6" height="10.8" rx="4.7"/>
<rect x="284.3" y="1487.8" width="10.6" height="10.8" rx="4.7"/>
<rect x="288.8" y="1473.4" width="10.6" height="10.8" rx="4.7"/>
<rect x="293.3" y="1421.4" width="10.6" height="10.8" rx="4.7"/>
<rect x="297.9" y="1458" width="10.6" height="10.8" rx="4.7"/>
<rect x="302.4" y="1501.4" width="10.6" height="10.8" rx="4.7"/>
<rect x="306.6" y="1526.4" width="10.6" height="10.8" rx="4.7"/>
<rect x="311.5" y="1518.6" width="10.6" height="10.8" rx="4.7"/>
<rect x="315.6" y="1553.6" width="10.6" height="10.8" rx="4.7"/>
<rect x="320" y="1520.5" width="10.6" height="10.8" rx="4.7"/>
<rect x="324.7" y="1520.5" width="10.6" height="10.8" rx="4.7"/>
<rect x="329" y="1455.6" width="10.6" height="10.8" rx="4.7"/>
<rect x="333.6" y="1520.5" width="10.6" height="10.8" rx="4.7"/>
<rect x="337.7" y="1494.7" width="10.6" height="10.8" rx="4.7"/>
<rect x="342.3" y="1493.3" width="10.6" height="10.8" rx="4.7"/>
<rect x="346.8" y="1524.1" width="10.6" height="10.8" rx="4.7"/>
<rect x="351.3" y="1488.7" width="10.6" height="10.8" rx="4.7"/>
<rect x="355.8" y="1457" width="10.6" height="10.8" rx="4.7"/>
<rect x="360" y="1470.1" width="10.6" height="10.8" rx="4.7"/>
<rect x="364.5" y="1449.8" width="10.6" height="10.8" rx="4.7"/>
<rect x="368.9" y="1546.2" width="10.6" height="10.8" rx="4.7"/>
<rect x="373.1" y="1511.4" width="10.6" height="10.8" rx="4.7"/>
<rect x="378.1" y="1506.9" width="10.6" height="10.8" rx="4.7"/>
<rect x="382.1" y="1517.7" width="10.6" height="10.8" rx="4.7"/>
<rect x="387" y="1493.3" width="10.6" height="10.8" rx="4.7"/>
<rect x="391.2" y="1521.4" width="10.6" height="10.8" rx="4.7"/>
<rect x="395.7" y="1515" width="10.6" height="10.8" rx="4.7"/>
<rect x="399.9" y="1521.4" width="10.6" height="10.8" rx="4.7"/>
<rect x="404.4" y="1516.8" width="10.6" height="10.8" rx="4.7"/>
<rect x="409.3" y="1518.6" width="10.6" height="10.8" rx="4.7"/>
<rect x="413.4" y="1553.4" width="10.6" height="10.8" rx="4.7"/>
<rect x="418" y="1552.2" width="10.6" height="10.8" rx="4.7"/>
<rect x="422.3" y="1525.3" width="10.6" height="10.8" rx="4.7"/>
<rect x="426.9" y="1543.1" width="10.6" height="10.8" rx="4.7"/>
<rect x="431" y="1562.1" width="10.6" height="10.8" rx="4.7"/>
<rect x="435.6" y="1530.1" width="10.6" height="10.8" rx="4.7"/>
<rect x="440.1" y="1562.1" width="10.6" height="10.8" rx="4.7"/>
<rect x="444.6" y="1563" width="10.6" height="10.8" rx="4.7"/>
<rect x="449.1" y="1569.4" width="10.6" height="10.8" rx="4.7"/>
<rect x="453.3" y="1556.7" width="10.6" height="10.8" rx="4.7"/>
<rect x="457.8" y="1554.9" width="10.6" height="10.8" rx="4.7"/>
<rect x="462.2" y="1419.9" width="10.6" height="10.8" rx="4.7"/>
<rect x="466.3" y="1468.8" width="10.6" height="10.8" rx="4.7"/>
<rect x="470.9" y="1515.6" width="10.6" height="10.8" rx="4.7"/>
<rect x="475.4" y="1454.3" width="10.6" height="10.8" rx="4.7"/>
<rect x="479.9" y="1463.9" width="10.6" height="10.8" rx="4.7"/>
<rect x="484.5" y="1535.5" width="10.6" height="10.8" rx="4.7"/>
<rect x="489" y="1505.1" width="10.6" height="10.8" rx="4.7"/>
<rect x="493.5" y="1525" width="10.6" height="10.8" rx="4.7"/>
<rect x="497.7" y="1556.7" width="10.6" height="10.8" rx="4.7"/>
<rect x="502.2" y="1543.1" width="10.6" height="10.8" rx="4.7"/>
<rect x="506.7" y="1509.6" width="10.6" height="10.8" rx="4.7"/>
<rect x="511.3" y="1564.8" width="10.6" height="10.8" rx="4.7"/>
<rect x="515.8" y="1567.6" width="10.6" height="10.8" rx="4.7"/>
<rect x="520.2" y="1585.7" width="10.6" height="10.8" rx="4.7"/>
<rect x="524.8" y="1563.9" width="10.6" height="10.8" rx="4.7"/>
<rect x="529.4" y="1560.3" width="10.6" height="10.8" rx="4.7"/>
<rect x="533.5" y="1573.9" width="10.6" height="10.8" rx="4.7"/>
<rect x="538.1" y="1577.5" width="10.6" height="10.8" rx="4.7"/>
<rect x="542.6" y="1562.1" width="10.6" height="10.8" rx="4.7"/>
<rect x="547.1" y="1571.2" width="10.6" height="10.8" rx="4.7"/>
<rect x="551.3" y="1546.7" width="10.6" height="10.8" rx="4.7"/>
<rect x="556.2" y="1548.5" width="10.6" height="10.8" rx="4.7"/>
<rect x="560.2" y="1477.3" width="10.6" height="10.8" rx="4.7"/>
<rect x="564.7" y="1461.6" width="10.6" height="10.8" rx="4.7"/>
<rect x="569.2" y="1515.9" width="10.6" height="10.8" rx="4.7"/>
<rect x="573.4" y="1477.9" width="10.6" height="10.8" rx="4.7"/>
<rect x="578.3" y="1491.5" width="10.6" height="10.8" rx="4.7"/>
<rect x="582.4" y="1544" width="10.6" height="10.8" rx="4.7"/>
<rect x="586.4" y="1375.5" width="10.6" height="10.8" rx="4.7"/>
<rect x="591.1" y="1362.8" width="10.6" height="10.8" rx="4.7"/>
<rect x="600.2" y="1337.1" width="10.6" height="10.8" rx="4.7"/>
<rect x="617.8" y="1400.3" width="10.6" height="10.8" rx="4.7"/>
<rect x="622.3" y="1491.5" width="10.6" height="10.8" rx="4.7"/>
<rect x="626.8" y="1408.1" width="10.6" height="10.8" rx="4.7"/>
<rect x="631.3" y="1431.7" width="10.6" height="10.8" rx="4.7"/>
<rect x="635.5" y="1410.9" width="10.6" height="10.8" rx="4.7"/>
<rect x="640" y="1449.8" width="10.6" height="10.8" rx="4.7"/>
<rect x="644.4" y="1476.1" width="10.6" height="10.8" rx="4.7"/>
<rect x="648.9" y="1491.8" width="10.6" height="10.8" rx="4.7"/>
<rect x="653.4" y="1403.6" width="10.6" height="10.8" rx="4.7"/>
<rect x="658" y="1485.1" width="10.6" height="10.8" rx="4.7"/>
<rect x="662.5" y="1467.9" width="10.6" height="10.8" rx="4.7"/>
<rect x="667.6" y="1488.7" width="10.6" height="10.8" rx="4.7"/>
<rect x="671.2" y="1521.4" width="10.6" height="10.8" rx="4.7"/>
<rect x="675.7" y="1531.3" width="10.6" height="10.8" rx="4.7"/>
<rect x="680.3" y="1462.5" width="10.6" height="10.8" rx="4.7"/>
<rect x="684.8" y="1515" width="10.6" height="10.8" rx="4.7"/>
<rect x="689.3" y="1498.7" width="10.6" height="10.8" rx="4.7"/>
<rect x="693.5" y="1521.9" width="10.6" height="10.8" rx="4.7"/>
<rect x="697.8" y="1494.2" width="10.6" height="10.8" rx="4.7"/>
<rect x="702.4" y="1541.3" width="10.6" height="10.8" rx="4.7"/>
<rect x="706.5" y="1505.1" width="10.6" height="10.8" rx="4.7"/>
<rect x="711.4" y="1534.9" width="10.6" height="10.8" rx="4.7"/>
<rect x="715.6" y="1498.7" width="10.6" height="10.8" rx="4.7"/>
<rect x="720.1" y="1505.1" width="10.6" height="10.8" rx="4.7"/>
<rect x="724.6" y="1542.7" width="10.6" height="10.8" rx="4.7"/>
<rect x="729.2" y="1570.3" width="10.6" height="10.8" rx="4.7"/>
<rect x="733.7" y="1495.1" width="10.6" height="10.8" rx="4.7"/>
<rect x="738.2" y="1465.2" width="10.6" height="10.8" rx="4.7"/>
<rect x="742.4" y="1527.7" width="10.6" height="10.8" rx="4.7"/>
<rect x="746.9" y="1536.8" width="10.6" height="10.8" rx="4.7"/>
<rect x="751.5" y="1488.7" width="10.6" height="10.8" rx="4.7"/>
<rect x="756.3" y="1522.3" width="10.6" height="10.8" rx="4.7"/>
<rect x="760.3" y="1560.3" width="10.6" height="10.8" rx="4.7"/>
<rect x="764.9" y="1531.3" width="10.6" height="10.8" rx="4.7"/>
<rect x="769" y="1560.3" width="10.6" height="10.8" rx="4.7"/>
<rect x="773.6" y="1544" width="10.6" height="10.8" rx="4.7"/>
<rect x="778.1" y="1564.8" width="10.6" height="10.8" rx="4.7"/>
<rect x="782.6" y="1566.6" width="10.6" height="10.8" rx="4.7"/>
<rect x="787.1" y="1568.5" width="10.6" height="10.8" rx="4.7"/>
<rect x="791.7" y="1556.7" width="10.6" height="10.8" rx="4.7"/>
<rect x="795.7" y="1576.6" width="10.6" height="10.8" rx="4.7"/>
<rect x="800.2" y="1561.2" width="10.6" height="10.8" rx="4.7"/>
<rect x="804.7" y="1575.7" width="10.6" height="10.8" rx="4.7"/>
<rect x="809.2" y="1543.1" width="10.6" height="10.8" rx="4.7"/>
<rect x="594.9" y="1266.7" width="10.6" height="10.8" rx="4.7"/>
<rect x="605.8" y="1267.7" width="10.6" height="10.8" rx="4.7"/>
<rect x="613.4" y="1289.9" width="10.6" height="10.8" rx="4.7"/>
<rect x="609.4" y="1305.6" width="10.6" height="10.8" rx="4.7"/>
<rect x="813.5" y="1564.8" width="10.6" height="10.8" rx="4.7"/>
<rect x="818.1" y="1555.8" width="10.6" height="10.8" rx="4.7"/>
<rect x="822.6" y="1525" width="10.6" height="10.8" rx="4.7"/>
<rect x="827.1" y="1552.2" width="10.6" height="10.8" rx="4.7"/>
<rect x="831.6" y="1551.2" width="10.6" height="10.8" rx="4.7"/>
<rect x="836.2" y="1545.8" width="10.6" height="10.8" rx="4.7"/>
<rect x="840.2" y="1567.6" width="10.6" height="10.8" rx="4.7"/>
<rect x="844.7" y="1543.1" width="10.6" height="10.8" rx="4.7"/>
<rect x="849.2" y="1568.5" width="10.6" height="10.8" rx="4.7"/>
<rect x="853.4" y="1572.1" width="10.6" height="10.8" rx="4.7"/>
<rect x="857.9" y="1577.5" width="10.6" height="10.8" rx="4.7"/>
<rect x="862.4" y="1559.4" width="10.6" height="10.8" rx="4.7"/>
<rect x="867" y="1569.4" width="10.6" height="10.8" rx="4.7"/>
<rect x="871.5" y="1557.6" width="10.6" height="10.8" rx="4.7"/>
<rect x="876" y="1556.7" width="10.6" height="10.8" rx="4.7"/>
<rect x="880.6" y="1581.7" width="10.6" height="10.8" rx="4.7"/>
<rect x="885.1" y="1560.3" width="10.6" height="10.8" rx="4.7"/>
<rect x="889.2" y="1568.5" width="10.6" height="10.8" rx="4.7"/>
<rect x="893.6" y="1557.6" width="10.6" height="10.8" rx="4.7"/>
<rect x="897.8" y="1580.2" width="10.6" height="10.8" rx="4.7"/>
<rect x="902.7" y="1560.3" width="10.6" height="10.8" rx="4.7"/>
<rect x="906.8" y="1561.2" width="10.6" height="10.8" rx="4.7"/>
<rect x="911.3" y="1544" width="10.6" height="10.8" rx="4.7"/>
<rect x="915.9" y="1548.5" width="10.6" height="10.8" rx="4.7"/>
<rect x="920.4" y="1569.4" width="10.6" height="10.8" rx="4.7"/>
<rect x="924.9" y="1558.5" width="10.6" height="10.8" rx="4.7"/>
<rect x="929.5" y="1562.1" width="10.6" height="10.8" rx="4.7"/>
<rect x="934" y="1565.7" width="10.6" height="10.8" rx="4.7"/>
<rect x="938.5" y="1571.2" width="10.6" height="10.8" rx="4.7"/>
<rect x="943.1" y="1574.8" width="10.6" height="10.8" rx="4.7"/>
<rect x="947.6" y="1574.8" width="10.6" height="10.8" rx="4.7"/>
<rect x="951.6" y="1561.2" width="10.6" height="10.8" rx="4.7"/>
<rect x="955.7" y="1552.2" width="10.6" height="10.8" rx="4.7"/>
<rect x="960.3" y="1575.7" width="10.6" height="10.8" rx="4.7"/>
<rect x="964.8" y="1571.2" width="10.6" height="10.8" rx="4.7"/>
<rect x="969.3" y="1576.6" width="10.6" height="10.8" rx="4.7"/>
<rect x="973.8" y="1583.9" width="10.6" height="10.8" rx="4.7"/>
<rect x="978" y="1555.8" width="10.6" height="10.8" rx="4.7"/>
<rect x="982.4" y="1549.4" width="10.6" height="10.8" rx="4.7"/>
<rect x="986.9" y="1558.5" width="10.6" height="10.8" rx="4.7"/>
<rect x="991.4" y="1574.8" width="10.6" height="10.8" rx="4.7"/>
<rect x="995.6" y="1549.4" width="10.6" height="10.8" rx="4.7"/>
<rect x="1000.1" y="1567.6" width="10.6" height="10.8" rx="4.7"/>
<rect x="1004.6" y="1572.1" width="10.6" height="10.8" rx="4.7"/>
<rect x="1009.2" y="1575.7" width="10.6" height="10.8" rx="4.7"/>
<rect x="1013.7" y="1553.4" width="10.6" height="10.8" rx="4.7"/>
<rect x="1018.2" y="1575.7" width="10.6" height="10.8" rx="4.7"/>
<rect x="1022.8" y="1573" width="10.6" height="10.8" rx="4.7"/>
<rect x="1026.9" y="1558.5" width="10.6" height="10.8" rx="4.7"/>
<rect x="1031.5" y="1583.9" width="10.6" height="10.8" rx="4.7"/>
<rect x="1036" y="1565.7" width="10.6" height="10.8" rx="4.7"/>
<rect x="1040.3" y="1569.4" width="10.6" height="10.8" rx="4.7"/>
<rect x="1044.9" y="1579.3" width="10.6" height="10.8" rx="4.7"/>
<rect x="1049.4" y="1569.4" width="10.6" height="10.8" rx="4.7"/>
<rect x="1053.6" y="1570.3" width="10.6" height="10.8" rx="4.7"/>
<rect x="1058.1" y="1568.5" width="10.6" height="10.8" rx="4.7"/>
<rect x="1062.6" y="1575.7" width="10.6" height="10.8" rx="4.7"/>
<rect x="1067.1" y="1577.5" width="10.6" height="10.8" rx="4.7"/>
<rect x="1071.7" y="1560.3" width="10.6" height="10.8" rx="4.7"/>
<rect x="1076.2" y="1562.1" width="10.6" height="10.8" rx="4.7"/>
<rect x="1080.7" y="1580.2" width="10.6" height="10.8" rx="4.7"/>
<rect x="1085.3" y="1554.9" width="10.6" height="10.8" rx="4.7"/>
<rect x="1089.8" y="1569.4" width="10.6" height="10.8" rx="4.7"/>
<rect x="1089.9" y="1564.8" width="10.6" height="10.8" rx="4.7"/>
<rect x="1093.9" y="1573" width="10.6" height="10.8" rx="4.7"/>
<rect x="1098.4" y="1551.2" width="10.6" height="10.8" rx="4.7"/>
<rect x="1102.6" y="1545.8" width="10.6" height="10.8" rx="4.7"/>
<rect x="1107.1" y="1567.6" width="10.6" height="10.8" rx="4.7"/>
<rect x="1111.6" y="1565.7" width="10.6" height="10.8" rx="4.7"/>
<rect x="1115.8" y="1566.6" width="10.6" height="10.8" rx="4.7"/>
<rect x="1120.2" y="1573.9" width="10.6" height="10.8" rx="4.7"/>
<rect x="1124.7" y="1575.7" width="10.6" height="10.8" rx="4.7"/>
<rect x="1129.2" y="1544.9" width="10.6" height="10.8" rx="4.7"/>
<rect x="1133.7" y="1560.3" width="10.6" height="10.8" rx="4.7"/>
<rect x="1138.3" y="1400.9" width="10.6" height="10.8" rx="4.7"/>
<rect x="1142.4" y="1562.1" width="10.6" height="10.8" rx="4.7"/>
<rect x="1147" y="1556.7" width="10.6" height="10.8" rx="4.7"/>
<rect x="1151.5" y="1550.3" width="10.6" height="10.8" rx="4.7"/>
<rect x="1156" y="1576.6" width="10.6" height="10.8" rx="4.7"/>
<rect x="1160.6" y="1545.8" width="10.6" height="10.8" rx="4.7"/>
<rect x="1164.7" y="1569.4" width="10.6" height="10.8" rx="4.7"/>
<rect x="1169.2" y="1521" width="10.6" height="10.8" rx="4.7"/>
<rect x="1173.8" y="1495.5" width="10.6" height="10.8" rx="4.7"/>
<rect x="1178.1" y="1515.9" width="10.6" height="10.8" rx="4.7"/>
<rect x="1182.7" y="1558.5" width="10.6" height="10.8" rx="4.7"/>
<rect x="1186.8" y="1568.5" width="10.6" height="10.8" rx="4.7"/>
<rect x="1191.3" y="1568.5" width="10.6" height="10.8" rx="4.7"/>
<rect x="1195.9" y="1528.1" width="10.6" height="10.8" rx="4.7"/>
<rect x="1200.4" y="1505.1" width="10.6" height="10.8" rx="4.7"/>
<rect x="1204.9" y="1581.1" width="10.6" height="10.8" rx="4.7"/>
<rect x="1209.5" y="1571.2" width="10.6" height="10.8" rx="4.7"/>
<rect x="1214" y="1572.1" width="10.6" height="10.8" rx="4.7"/>
<rect x="1218.5" y="1553.1" width="10.6" height="10.8" rx="4.7"/>
<rect x="1223.1" y="1575.7" width="10.6" height="10.8" rx="4.7"/>
<rect x="1227.2" y="1575.7" width="10.6" height="10.8" rx="4.7"/>
<rect x="1231.7" y="1559.4" width="10.6" height="10.8" rx="4.7"/>
<rect x="1236.3" y="1558.5" width="10.6" height="10.8" rx="4.7"/>
<rect x="1240.6" y="1563" width="10.6" height="10.8" rx="4.7"/>
<rect x="1244.8" y="1577.5" width="10.6" height="10.8" rx="4.7"/>
<rect x="1249.3" y="1582" width="10.6" height="10.8" rx="4.7"/>
<rect x="1253.8" y="1568.5" width="10.6" height="10.8" rx="4.7"/>
<rect x="1258.4" y="1569.4" width="10.6" height="10.8" rx="4.7"/>
<rect x="1262.9" y="1578.4" width="10.6" height="10.8" rx="4.7"/>
<rect x="1267.4" y="1580.2" width="10.6" height="10.8" rx="4.7"/>
<rect x="1271.4" y="1569.4" width="10.6" height="10.8" rx="4.7"/>
<rect x="1275.9" y="1570.3" width="10.6" height="10.8" rx="4.7"/>
<rect x="1280.5" y="1581.1" width="10.6" height="10.8" rx="4.7"/>
<rect x="1285" y="1561.2" width="10.6" height="10.8" rx="4.7"/>
<rect x="1289.2" y="1581.1" width="10.6" height="10.8" rx="4.7"/>
<rect x="1293.7" y="1573.9" width="10.6" height="10.8" rx="4.7"/>
<rect x="1298.2" y="1577.5" width="10.6" height="10.8" rx="4.7"/>
<rect x="1302.8" y="1582" width="10.6" height="10.8" rx="4.7"/>
<rect x="1306.9" y="1583.9" width="10.6" height="10.8" rx="4.7"/>
<rect x="1311.5" y="1568.5" width="10.6" height="10.8" rx="4.7"/>
<rect x="1316" y="1582" width="10.6" height="10.8" rx="4.7"/>
<rect x="1320.3" y="1582" width="10.6" height="10.8" rx="4.7"/>
<rect x="1324.9" y="1583.9" width="10.6" height="10.8" rx="4.7"/>
<rect x="1329.4" y="1573.9" width="10.6" height="10.8" rx="4.7"/>
<rect x="1333.6" y="1563" width="10.6" height="10.8" rx="4.7"/>
<rect x="1338.1" y="1569.4" width="10.6" height="10.8" rx="4.7"/>
<rect x="1342.6" y="1577.5" width="10.6" height="10.8" rx="4.7"/>
<rect x="1347.1" y="1579.3" width="10.6" height="10.8" rx="4.7"/>
<rect x="1351.7" y="1572.1" width="10.6" height="10.8" rx="4.7"/>
<rect x="1356.2" y="1569.4" width="10.6" height="10.8" rx="4.7"/>
<rect x="1360.7" y="1565.7" width="10.6" height="10.8" rx="4.7"/>
<rect x="1365.3" y="1566.6" width="10.6" height="10.8" rx="4.7"/>
<rect x="1369.8" y="1576.6" width="10.6" height="10.8" rx="4.7"/>
<rect x="1365.2" y="1573.9" width="10.6" height="10.8" rx="4.7"/>
<rect x="1374.1" y="1567.6" width="10.6" height="10.8" rx="4.7"/>
<rect x="1378.6" y="1577.5" width="10.6" height="10.8" rx="4.7"/>
<rect x="1382.9" y="1572.1" width="10.6" height="10.8" rx="4.7"/>
<rect x="1387.5" y="1575.7" width="10.6" height="10.8" rx="4.7"/>
<rect x="1391.8" y="1579.3" width="10.6" height="10.8" rx="4.7"/>
<rect x="1396.3" y="1556.3" width="10.6" height="10.8" rx="4.7"/>
<rect x="1400.7" y="1583.9" width="10.6" height="10.8" rx="4.7"/>
<rect x="1405.2" y="1578.4" width="10.6" height="10.8" rx="4.7"/>
<rect x="1409.8" y="1573" width="10.6" height="10.8" rx="4.7"/>
<rect x="1414.1" y="1567.6" width="10.6" height="10.8" rx="4.7"/>
<rect x="1418.6" y="1580.2" width="10.6" height="10.8" rx="4.7"/>
<rect x="1423" y="1580.2" width="10.6" height="10.8" rx="4.7"/>
<rect x="1427.5" y="1578.4" width="10.6" height="10.8" rx="4.7"/>
<rect x="1431.9" y="1576.6" width="10.6" height="10.8" rx="4.7"/>
<rect x="1436.4" y="1561.2" width="10.6" height="10.8" rx="4.7"/>
<rect x="1440.7" y="1572.1" width="10.6" height="10.8" rx="4.7"/>
<rect x="1445.3" y="1580.2" width="10.6" height="10.8" rx="4.7"/>
<rect x="1449.6" y="1555.8" width="10.6" height="10.8" rx="4.7"/>
<rect x="1454.1" y="1560.3" width="10.6" height="10.8" rx="4.7"/>
<rect x="1458.7" y="1556.7" width="10.6" height="10.8" rx="4.7"/>
<rect x="1463" y="1565.7" width="10.6" height="10.8" rx="4.7"/>
<rect x="1467.5" y="1580.2" width="10.6" height="10.8" rx="4.7"/>
<rect x="1471.9" y="1568.5" width="10.6" height="10.8" rx="4.7"/>
<rect x="1476.4" y="1578.4" width="10.6" height="10.8" rx="4.7"/>
<rect x="1480.8" y="1562.1" width="10.6" height="10.8" rx="4.7"/>
<rect x="1485.3" y="1578.4" width="10.6" height="10.8" rx="4.7"/>
<rect x="1489.6" y="1550.9" width="10.6" height="10.8" rx="4.7"/>
<rect x="1494.2" y="1575.7" width="10.6" height="10.8" rx="4.7"/>
<rect x="1498.5" y="1565.7" width="10.6" height="10.8" rx="4.7"/>
<rect x="1503.1" y="1576.6" width="10.6" height="10.8" rx="4.7"/>
<rect x="1507.6" y="1583" width="10.6" height="10.8" rx="4.7"/>
<rect x="1511.9" y="1567.6" width="10.6" height="10.8" rx="4.7"/>
<rect x="1516.5" y="1575.7" width="10.6" height="10.8" rx="4.7"/>
<rect x="1520.8" y="1560.3" width="10.6" height="10.8" rx="4.7"/>
<rect x="1525.3" y="1565.7" width="10.6" height="10.8" rx="4.7"/>
<rect x="1529.7" y="1578.4" width="10.6" height="10.8" rx="4.7"/>
<rect x="1534.2" y="1582" width="10.6" height="10.8" rx="4.7"/>
<rect x="1538.6" y="1588.4" width="10.6" height="10.8" rx="4.7"/>
<rect x="1543.1" y="1580.2" width="10.6" height="10.8" rx="4.7"/>
<rect x="1547.4" y="1567.6" width="10.6" height="10.8" rx="4.7"/>
<rect x="1552" y="1578.4" width="10.6" height="10.8" rx="4.7"/>
<rect x="1556.3" y="1558.5" width="10.6" height="10.8" rx="4.7"/>
<rect x="1560.8" y="1583" width="10.6" height="10.8" rx="4.7"/>
<rect x="1565.2" y="1576.6" width="10.6" height="10.8" rx="4.7"/>
<rect x="1569.7" y="1583.9" width="10.6" height="10.8" rx="4.7"/>
<rect x="1574.1" y="1581.1" width="10.6" height="10.8" rx="4.7"/>
<rect x="1578.6" y="1572.1" width="10.6" height="10.8" rx="4.7"/>
<rect x="1583.1" y="1582" width="10.6" height="10.8" rx="4.7"/>
<rect x="1587.5" y="1554" width="10.6" height="10.8" rx="4.7"/>
<rect x="1592" y="1583" width="10.6" height="10.8" rx="4.7"/>
<rect x="1596.3" y="1571.2" width="10.6" height="10.8" rx="4.7"/>
<rect x="1600.9" y="1573" width="10.6" height="10.8" rx="4.7"/>
<rect x="1605.2" y="1572.1" width="10.6" height="10.8" rx="4.7"/>
<rect x="1609.8" y="1571.2" width="10.6" height="10.8" rx="4.7"/>
<rect x="1614.1" y="1571.2" width="10.6" height="10.8" rx="4.7"/>
<rect x="1618.6" y="1570.3" width="10.6" height="10.8" rx="4.7"/>
<rect x="1623" y="1565.7" width="10.6" height="10.8" rx="4.7"/>
<rect x="1627.5" y="1576.6" width="10.6" height="10.8" rx="4.7"/>
<rect x="1631.9" y="1580.2" width="10.6" height="10.8" rx="4.7"/>
<rect x="1636.4" y="1588.4" width="10.6" height="10.8" rx="4.7"/>
<rect x="1640.9" y="1589.3" width="10.6" height="10.8" rx="4.7"/>
<rect x="1645.3" y="1585.7" width="10.6" height="10.8" rx="4.7"/>
<rect x="1649.8" y="1569.4" width="10.6" height="10.8" rx="4.7"/>
<rect x="1654.1" y="1557.2" width="10.6" height="10.8" rx="4.7"/>
<rect x="1658.6" y="1579.3" width="10.6" height="10.8" rx="4.7"/>
<rect x="1662.9" y="1583" width="10.6" height="10.8" rx="4.7"/>
<rect x="1667.5" y="1572.1" width="10.6" height="10.8" rx="4.7"/>
<rect x="1671.8" y="1580.2" width="10.6" height="10.8" rx="4.7"/>
<rect x="1676.3" y="1557.6" width="10.6" height="10.8" rx="4.7"/>
<rect x="1680.7" y="1570.3" width="10.6" height="10.8" rx="4.7"/>
<rect x="1685.2" y="1563" width="10.6" height="10.8" rx="4.7"/>
<rect x="1689.6" y="1563.9" width="10.6" height="10.8" rx="4.7"/>
<rect x="1694.1" y="1581.1" width="10.6" height="10.8" rx="4.7"/>
<rect x="1698.6" y="1550.3" width="10.6" height="10.8" rx="4.7"/>
<rect x="1703" y="1548.5" width="10.6" height="10.8" rx="4.7"/>
<rect x="1707.5" y="1549.4" width="10.6" height="10.8" rx="4.7"/>
<rect x="1711.9" y="1570.3" width="10.6" height="10.8" rx="4.7"/>
<rect x="1716.4" y="1544.9" width="10.6" height="10.8" rx="4.7"/>
<rect x="1720.7" y="1544.5" width="10.6" height="10.8" rx="4.7"/>
<rect x="1725.3" y="1565.7" width="10.6" height="10.8" rx="4.7"/>
<rect x="1729.6" y="1563" width="10.6" height="10.8" rx="4.7"/>
<rect x="1734.1" y="1575.7" width="10.6" height="10.8" rx="4.7"/>
<rect x="1738.5" y="1580.2" width="10.6" height="10.8" rx="4.7"/>
<rect x="1743" y="1581.1" width="10.6" height="10.8" rx="4.7"/>
<rect x="1747.4" y="1581.1" width="10.6" height="10.8" rx="4.7"/>
<rect x="1751.9" y="1566.6" width="10.6" height="10.8" rx="4.7"/>
<rect x="1756.4" y="1571.2" width="10.6" height="10.8" rx="4.7"/>
<rect x="1760.8" y="1552.2" width="10.6" height="10.8" rx="4.7"/>
<rect x="1765.3" y="1537.7" width="10.6" height="10.8" rx="4.7"/>
<rect x="1769.6" y="1544.9" width="10.6" height="10.8" rx="4.7"/>
<rect x="1774.2" y="1574.8" width="10.6" height="10.8" rx="4.7"/>
<rect x="1778.5" y="1542.2" width="10.6" height="10.8" rx="4.7"/>
<rect x="1783.1" y="1517.4" width="10.6" height="10.8" rx="4.7"/>
<rect x="1787.4" y="1553.1" width="10.6" height="10.8" rx="4.7"/>
<rect x="1791.9" y="1500.5" width="10.6" height="10.8" rx="4.7"/>
<rect x="1796.3" y="1499.6" width="10.6" height="10.8" rx="4.7"/>
<rect x="1800.8" y="1551.2" width="10.6" height="10.8" rx="4.7"/>
<rect x="1805.2" y="1544.9" width="10.6" height="10.8" rx="4.7"/>
<rect x="1809.7" y="1566.6" width="10.6" height="10.8" rx="4.7"/>
<rect x="1814.2" y="1572.1" width="10.6" height="10.8" rx="4.7"/>
<rect x="1818.6" y="1574.8" width="10.6" height="10.8" rx="4.7"/>
<rect x="1823.1" y="1555.8" width="10.6" height="10.8" rx="4.7"/>
<rect x="1827.4" y="1575.7" width="10.6" height="10.8" rx="4.7"/>
<rect x="1832" y="1577.5" width="10.6" height="10.8" rx="4.7"/>
<rect x="1836.3" y="1574.8" width="10.6" height="10.8" rx="4.7"/>
<rect x="1840.8" y="1585.7" width="10.6" height="10.8" rx="4.7"/>
<rect x="1845.2" y="1575.7" width="10.6" height="10.8" rx="4.7"/>
<rect x="1849.7" y="1573.9" width="10.6" height="10.8" rx="4.7"/>
<rect x="1854.1" y="1572.1" width="10.6" height="10.8" rx="4.7"/>
<rect x="1858.6" y="1570.3" width="10.6" height="10.8" rx="4.7"/>
<rect x="1863.1" y="1566.6" width="10.6" height="10.8" rx="4.7"/>
<rect x="1867.5" y="1553.1" width="10.6" height="10.8" rx="4.7"/>
<rect x="1872" y="1540.4" width="10.6" height="10.8" rx="4.7"/>
<rect x="1876.3" y="1538.9" width="10.6" height="10.8" rx="4.7"/>
<rect x="1880.9" y="1561.2" width="10.6" height="10.8" rx="4.7"/>
</g>
<polyline fill="none" stroke="#00ff00" stroke-width="1.7" stroke-linejoin="round" points="268,1580 269.9,1556.4 272.6,1538.3 277.1,1520.2 281.6,1502.1 286.2,1485.8 290.7,1474.9 294.3,1469.1 298.8,1474.9 303.4,1482.2 307.9,1493 310.6,1507.5 313.3,1520.2 317,1529.3 320.6,1532 326,1522 330.5,1513 335.1,1503.9 340.5,1503.9 347.8,1507.5 353.2,1496.7 357.7,1489.4 361.9,1482.2 365.9,1487.6 370.4,1494.9 374.9,1505.7 380.4,1513 385.8,1514.8 393,1517.5 400.3,1520.2 406.6,1526.6 413,1532.9 420.2,1538.3 425.7,1543.8 431.1,1549.2 438.3,1554.6 445.6,1562.8 454.6,1563.7 457.4,1547.4 461,1525.7 465.5,1511.2 470.9,1493 474.6,1474.9 477.3,1471.3 480,1491.2 485.4,1498.5 490.9,1502.1 495.4,1525.7 499,1538.3 503.6,1534.7 509,1547.4 516.2,1558.3 520,1572.8 523.5,1567.3 525.4,1575.5 530.9,1574.6 537.2,1573.7 543.6,1572.8 547.2,1570.9 551.7,1569.1 554.4,1556.4 558,1538.3 562.6,1520.2 567.1,1505.7 571.6,1494.9 574.3,1489.4 578.3,1503 581.6,1489.4 585.2,1471.3 588.8,1447.8 591.6,1417 594.3,1389.8 596.8,1377 598.6,1340.8 601.6,1321.4 605.8,1307 610,1297.3 612.5,1311.8 614.9,1328.7 616.9,1348.1 620.3,1364.9 623.3,1383 626,1398.7 629.6,1420.6 632.3,1433.3 635.9,1442.3 640.5,1445.9 645,1455 649.5,1453.2 652.2,1462.2 655.9,1468.6 661.3,1472.2 667.6,1476.7 669.5,1493 672.2,1502.1 676.7,1503.9 681.2,1510.3 689.4,1510.3 694.8,1503.9 697.5,1518.4 703,1520.2 708.4,1523.8 714.7,1521.1 721.1,1524.7 725.6,1535.6 730.1,1526.6 735.6,1521.1 741.9,1525.7 745.5,1513 749.2,1508.4 753.7,1514.8 757.3,1531.1 764.6,1534.7 769.1,1547.4 773.6,1556.4 780.9,1563.7 788.1,1566.4 795.4,1569.1 800,1569.1 802.6,1571.8 805.4,1570.9 809.9,1570 815.4,1567.3 817.1,1563.7 819.9,1556.4 825.4,1553.7 832.6,1551.9 838.9,1554.6 845.3,1560.1 852.5,1565.5 859.8,1570.9 867,1571.8 874.3,1569.1 881.5,1568.2 888.8,1569.1 894.2,1571.8 901.4,1569.1 908.7,1567.3 915.9,1562.8 923.2,1561.9 930.4,1567.3 937.7,1570.9 944.9,1571.8 952.2,1573.7 959.4,1572.8 966.7,1573.7 973.9,1577.3 979.3,1570.9 986.6,1567.3 992.9,1563.7 999.3,1565.5 1004.7,1570.9 1012,1573.7 1019.2,1574.6 1026.4,1574.6 1033.7,1575.5 1040.9,1576.4 1048.2,1577.3 1057.2,1576.4 1066.3,1577.3 1075.4,1576.4 1080,1570.9 1082.6,1572.8 1087.2,1569.1 1089.9,1569.1 1096.3,1565.5 1105.4,1565.5 1112.6,1566.4 1118,1570.9 1123.5,1574.6 1129.8,1569.1 1131.6,1556.4 1133.4,1538.3 1138,1532.9 1143.4,1530.7 1148.8,1531.1 1152.5,1534.7 1154.6,1547.4 1156.1,1563.7 1161.5,1561.9 1167,1554.6 1169.7,1547.4 1173.3,1537.4 1177.8,1536.2 1183.3,1536.5 1186.9,1543.8 1192.3,1551.9 1199.6,1553.7 1206.8,1555.5 1213.2,1558.3 1215.9,1565.5 1218.6,1572.8 1223.1,1575.5 1228.6,1572.8 1234,1570 1241.2,1571.8 1248.5,1574.6 1255.7,1580 1263,1580.9 1270.2,1580.9 1277.5,1580 1284.7,1579.1 1292,1580 1299.2,1580.9 1306.4,1582.7 1315.5,1583.6 1324.6,1582.7 1331.8,1580 1337.2,1577.3 1346.3,1577.3 1355.4,1577.3 1360,1576.4 1362.6,1575.5 1369.1,1575.5 1371.7,1575.5 1378.1,1576.4 1387.2,1577.3 1396.2,1579.1 1404.4,1581.8 1412.5,1579.1 1419.8,1580.9 1428.8,1581.8 1436.1,1580 1441.5,1577.3 1447,1573.7 1452.4,1570 1459.6,1570 1466.9,1571.8 1474.1,1575.5 1483.2,1577.3 1490.4,1573.7 1497.7,1572.8 1504.9,1575.5 1514,1577.3 1523,1575.5 1530.3,1576.4 1537.5,1581.8 1546.6,1582.7 1555.7,1580.9 1564.7,1582.7 1573.8,1585.4 1581,1583.6 1588.3,1579.1 1597.3,1578.2 1606.4,1578.2 1615.4,1577.3 1624.5,1577.3 1631.7,1581.8 1639,1588.2 1642.6,1590 1647.2,1585.4 1653.5,1582.7 1663.6,1579.1 1672.6,1580 1679.9,1574.6 1687.1,1571.8 1696.2,1567.3 1703.4,1564.6 1709.7,1563.7 1714.3,1557.4 1719.7,1558.3 1727,1562.8 1734.2,1567.3 1738.7,1575.5 1744.2,1580 1750.5,1580 1755.9,1579.1 1759.6,1572.8 1764.1,1563.7 1770.4,1560.1 1775.9,1554.6 1783.1,1548.3 1787.6,1546.5 1790.4,1534.7 1794,1529.3 1797.6,1530.2 1803,1535.6 1807.6,1542 1811.2,1551 1813,1563.7 1816.6,1569.1 1823,1573.7 1830.2,1575.5 1837.5,1578.2 1844.7,1582.7 1852,1580 1861,1574.6 1868.3,1567.3 1875.5,1558.3 1881.8,1551.9 1884.2,1560.1 1886.4,1566.4"/>
<g font-family='"Liberation Sans", Arial, Helvetica, sans-serif' font-size="35.6" fill="#262626">
<g text-anchor="middle">
<text x="151.5" y="1642" textLength="91.9" lengthAdjust="spacingAndGlyphs">12/06</text>
<text x="373.3" y="1642" textLength="91.9" lengthAdjust="spacingAndGlyphs">01/25</text>
<text x="595.7" y="1642" textLength="91.9" lengthAdjust="spacingAndGlyphs">03/16</text>
<text x="817.9" y="1642" textLength="91.9" lengthAdjust="spacingAndGlyphs">05/05</text>
<text x="1040.3" y="1642" textLength="91.9" lengthAdjust="spacingAndGlyphs">06/24</text>
<text x="1262.4" y="1642" textLength="91.9" lengthAdjust="spacingAndGlyphs">08/13</text>
<text x="1485.1" y="1642" textLength="91.9" lengthAdjust="spacingAndGlyphs">10/02</text>
<text x="1707.3" y="1642" textLength="91.9" lengthAdjust="spacingAndGlyphs">11/21</text>
<text x="1930" y="1642" textLength="91.9" lengthAdjust="spacingAndGlyphs">01/10</text>
</g><g text-anchor="end">
<text x="140.3" y="1608.2" textLength="20.4" lengthAdjust="spacingAndGlyphs">0</text>
<text x="140.3" y="1460.8" textLength="40.9" lengthAdjust="spacingAndGlyphs">10</text>
<text x="140.3" y="1311.2" textLength="40.9" lengthAdjust="spacingAndGlyphs">20</text>
<text x="140.3" y="1161" textLength="40.9" lengthAdjust="spacingAndGlyphs">30</text>
<text x="140.3" y="1010.9" textLength="40.9" lengthAdjust="spacingAndGlyphs">40</text>
</g>
</g>
<text y="1688" font-family='"Liberation Sans", Arial, Helvetica, sans-serif' font-size="39.8" fill="#262626"><tspan x="818.8" textLength="83.4" lengthAdjust="spacingAndGlyphs">Date</tspan> <tspan x="913.4" textLength="160.5" lengthAdjust="spacingAndGlyphs">(mm/dd),</tspan> <tspan x="1085.1" textLength="73.6" lengthAdjust="spacingAndGlyphs">year</tspan> <tspan x="1171.5" textLength="90.6" lengthAdjust="spacingAndGlyphs">2019</tspan></text>
<text transform="translate(81 0) rotate(-90)" y="0" font-family='"Liberation Sans", Arial, Helvetica, sans-serif' font-size="40.6" fill="#262626"><tspan x="-1488.9" textLength="34.2" lengthAdjust="spacingAndGlyphs">%</tspan> <tspan x="-1441.2" textLength="34.1" lengthAdjust="spacingAndGlyphs">of</tspan> <tspan x="-1393.2" textLength="173.5" lengthAdjust="spacingAndGlyphs">inundated</tspan> <tspan x="-1206.3" textLength="106.8" lengthAdjust="spacingAndGlyphs">pixels</tspan></text>
<text y="979.4" font-family='"Liberation Sans", Arial, Helvetica, sans-serif' font-weight="bold" font-size="46.8" fill="#000"><tspan x="195.7" textLength="107.9" lengthAdjust="spacingAndGlyphs">Time</tspan> <tspan x="316.5" textLength="134.3" lengthAdjust="spacingAndGlyphs">series</tspan> <tspan x="462.6" textLength="44.5" lengthAdjust="spacingAndGlyphs">of</tspan> <tspan x="522.5" textLength="42.4" lengthAdjust="spacingAndGlyphs">%</tspan> <tspan x="579.3" textLength="44.5" lengthAdjust="spacingAndGlyphs">of</tspan> <tspan x="636" textLength="197.3" lengthAdjust="spacingAndGlyphs">detected</tspan> <tspan x="845.3">inundated</tspan> <tspan x="1080.2" textLength="129.5" lengthAdjust="spacingAndGlyphs">pixels</tspan> <tspan x="1224.9" textLength="131.6" lengthAdjust="spacingAndGlyphs">within</tspan> <tspan x="1368.6" textLength="70.8" lengthAdjust="spacingAndGlyphs">the</tspan> <tspan x="1454.2" textLength="93.4" lengthAdjust="spacingAndGlyphs">area</tspan> <tspan x="1565.1" textLength="42.9" lengthAdjust="spacingAndGlyphs">of</tspan> <tspan x="1621" textLength="264.9" lengthAdjust="spacingAndGlyphs">observarion</tspan></text>
<text y="1785.9" text-anchor="middle" font-family='"Liberation Serif", "DejaVu Serif", serif' font-size="84" fill="#000"><tspan x="972.2">(</tspan><tspan x="1010.6" font-weight="bold" font-size="86">b</tspan><tspan x="1048">)</tspan></text>
</g>
<g id="chart-c">
<path d="M378.8 2473.9v-16M378.8 1880.7v16M597.8 2473.9v-16M597.8 1880.7v16M820.6 2473.9v-16M820.6 1880.7v16M1040.4 2473.9v-16M1040.4 1880.7v16M1261.6 2473.9v-16M1261.6 1880.7v16M1481.5 2473.9v-16M1481.5 1880.7v16M1703 2473.9v-16M1703 1880.7v16M157.4 2354h16M1923.2 2354h-16M157.4 2236.1h16M1923.2 2236.1h-16M157.4 2116.3h16M1923.2 2116.3h-16M157.4 1999.1h16M1923.2 1999.1h-16" stroke="#858585" stroke-width="2.3" fill="none"/>
<rect x="157.4" y="1880.7" width="1765.8" height="593.2" stroke="#858585" stroke-width="2.3" fill="none"/>
<path d="M157.7 2473.6V2441.3H160.8V2473.6zM160.8 2473.6V2441.3H166.1V2473.6zM166.1 2473.6V2327.4H171.1V2473.6zM171.1 2473.6V2217.9H176.1V2473.6zM176.1 2473.6V2295.1H181.2V2473.6zM181.2 2473.6V2204H186.4V2473.6zM186.4 2473.6V2140.5H191.5V2473.6zM191.5 2473.6V2320.2H196.5V2473.6zM196.5 2473.6V2308.7H201.5V2473.6zM201.5 2473.6V2361.7H206.8V2473.6zM206.8 2473.6V2166.9H211.8V2473.6zM211.8 2473.6V2323.4H216.9V2473.6zM216.9 2473.6V2323.4H221.9V2473.6zM221.9 2473.6V2269.9H227.2V2473.6zM227.2 2473.6V2135.7H232.2V2473.6zM232.2 2473.6V2153.7H237.2V2473.6zM237.2 2473.6V2094.5H242.3V2473.6zM242.3 2473.6V1977.6H247.3V2473.6zM247.3 2473.6V2144.1H252.6V2473.6zM252.6 2473.6V1995.5H257.6V2473.6zM257.6 2473.6V2106.5H262.6V2473.6zM262.6 2473.6V2134.5H267.7V2473.6zM267.7 2473.6V2196.8H272.7V2473.6zM272.7 2473.6V2298.7H278V2473.6zM278 2473.6V2342.5H283V2473.6zM283 2473.6V2393.3H288V2473.6zM288 2473.6V2321H293.1V2473.6zM293.1 2473.6V2383.7H298.1V2473.6zM298.1 2473.6V2436.5H303.4V2473.6zM303.4 2473.6V2434.1H308.4V2473.6zM308.4 2473.6V2428.1H313.4V2473.6zM313.4 2473.6V2404.1H318.5V2473.6zM318.5 2473.6V2396.9H323.5V2473.6zM323.5 2473.6V2416.1H328.8V2473.6zM328.8 2473.6V2396.9H333.8V2473.6zM333.8 2473.6V2374.2H338.8V2473.6zM338.8 2473.6V2362.2H343.9V2473.6zM343.9 2473.6V2347.8H348.9V2473.6zM348.9 2473.6V2344.2H354.2V2473.6zM354.2 2473.6V2408.9H359.2V2473.6zM359.2 2473.6V2396.9H364.2V2473.6zM364.2 2473.6V2388.5H369.3V2473.6zM369.3 2473.6V2384.9H374.3V2473.6zM374.3 2473.6V2450.4H379.6V2473.6zM379.6 2473.6V2246H384.6V2473.6zM384.6 2473.6V2232.8H389.6V2473.6zM389.6 2473.6V2302.3H394.7V2473.6zM394.7 2473.6V2150.1H399.7V2473.6zM399.7 2473.6V1892H405V2473.6zM405 2473.6V2194.9H410V2473.6zM410 2473.6V2380.1H415V2473.6zM415 2473.6V2426.9H420.1V2473.6zM420.1 2473.6V2410.1H425.1V2473.6zM425.1 2473.6V2414.9H430.4V2473.6zM430.4 2473.6V2296.6H436.9V2473.6zM436.9 2473.6V2417.9H441.8V2473.6zM441.8 2473.6V2430.1H446.8V2473.6zM446.8 2473.6V2442.4H451.9V2473.6zM451.9 2473.6V2460.5H457V2473.6zM457 2473.6V2455.1H462.1V2473.6zM462.1 2473.6V2350H467.1V2473.6zM467.1 2473.6V2311.1H472.2V2473.6zM472.2 2473.6V2168.8H477.5V2473.6zM477.5 2473.6V2234.1H482.5V2473.6zM482.5 2473.6V2135.3H487.6V2473.6zM487.6 2473.6V2191.5H492.7V2473.6zM492.7 2473.6V2281.2H497.8V2473.6zM497.8 2473.6V2138.4H502.8V2473.6zM502.8 2473.6V2370.8H507.9V2473.6zM507.9 2473.6V2389.9H513V2473.6zM513 2473.6V2397.1H518V2473.6zM518 2473.6V2305.6H523.1V2473.6zM523.1 2473.6V2250.4H528.2V2473.6zM528.2 2473.6V2249.5H533.3V2473.6zM533.3 2473.6V2178.8H538.3V2473.6zM538.3 2473.6V2144.4H543.4V2473.6zM543.4 2473.6V2270.3H548.5V2473.6zM548.5 2473.6V2268.5H553.6V2473.6zM553.6 2473.6V2309.2H558.6V2473.6zM558.6 2473.6V2244H563.7V2473.6zM563.7 2473.6V2291.1H568.8V2473.6zM568.8 2473.6V2373.9H573.8V2473.6zM573.8 2473.6V2428.8H578.9V2473.6zM578.9 2473.6V2422.1H584V2473.6zM584 2473.6V2441.5H589.1V2473.6zM589.1 2473.6V2371.7H594.1V2473.6zM594.1 2473.6V2439.7H599.2V2473.6zM599.2 2473.6V2464.1H604.3V2473.6zM604.3 2473.6V2466.8H609.3V2473.6zM609.3 2473.6V2469.6H614.4V2473.6zM614.4 2473.6V2468.7H619.5V2473.6zM619.5 2473.6V2453.3H624.6V2473.6zM624.6 2473.6V2448.7H629.6V2473.6zM629.6 2473.6V2446.9H634.7V2473.6zM634.7 2473.6V2466.8H639.8V2473.6zM639.8 2473.6V2452.4H644.9V2473.6zM644.9 2473.6V2406.2H649.9V2473.6zM649.9 2473.6V2455.1H655V2473.6zM655 2473.6V2455.1H660.1V2473.6zM660.1 2473.6V2421.6H665.1V2473.6zM665.1 2473.6V2408.9H670.2V2473.6zM670.2 2473.6V2380.8H675.3V2473.6zM675.3 2473.6V2379H680.4V2473.6zM680.4 2473.6V2459.6H685.4V2473.6zM685.4 2473.6V2465H690.5V2473.6zM690.5 2473.6V2451.4H695.6V2473.6zM695.6 2473.6V2219.6H700.7V2473.6zM700.7 2473.6V2326.1H705.7V2473.6zM705.7 2473.6V2424.3H710.8V2473.6zM710.8 2473.6V2456.5H715.9V2473.6zM715.9 2473.6V2467.8H720.9V2473.6zM720.9 2473.6V2451.8H726V2473.6zM726 2473.6V2465H731.2V2473.6zM731.2 2473.6V2457.4H736.3V2473.6zM736.3 2473.6V2411H741.3V2473.6zM741.3 2473.6V2284H746.4V2473.6zM746.4 2473.6V2371.2H751.5V2473.6zM751.5 2473.6V2352.7H756.6V2473.6zM756.6 2473.6V2362.6H761.6V2473.6zM761.6 2473.6V2440.2H766.7V2473.6zM766.7 2473.6V2451.4H771.8V2473.6zM771.8 2473.6V2456.3H776.8V2473.6zM776.8 2473.6V2461H781.9V2473.6zM781.9 2473.6V2466.8H787V2473.6zM787 2473.6V2469H792.1V2473.6zM792.1 2473.6V2471.3H797.1V2473.6zM797.1 2473.6V2458.7H802.2V2473.6zM802.2 2473.6V2471.9H807.3V2473.6zM807.3 2473.6V2469H812.4V2473.6zM812.4 2473.6V2455H817.4V2473.6zM817.4 2473.6V2440.2H822.5V2473.6zM822.5 2473.6V2464.1H827.6V2473.6zM827.6 2473.6V2466.8H832.6V2473.6zM832.6 2473.6V2470.8H837.7V2473.6zM837.7 2473.6V2469H842.8V2473.6zM842.8 2473.6V2469H847.9V2473.6zM847.9 2473.6V2467.7H852.9V2473.6zM852.9 2473.6V2469H858V2473.6zM858 2473.6V2466.8H863.1V2473.6zM863.1 2473.6V2439.6H868.2V2473.6zM868.2 2473.6V2456.3H873.2V2473.6zM873.2 2473.6V2472.2H878.3V2473.6zM878.3 2473.6V2470.8H883.4V2473.6zM883.4 2473.6V2467.7H888.4V2473.6zM888.4 2473.6V2469H893.5V2473.6zM893.5 2473.6V2461.4H898.6V2473.6zM898.6 2473.6V2454.1H903.7V2473.6zM903.7 2473.6V2461.7H908.7V2473.6zM908.7 2473.6V2465H913.8V2473.6zM913.8 2473.6V2439.3H918.9V2473.6zM918.9 2473.6V2466.4H923.9V2473.6zM923.9 2473.6V2467.7H929V2473.6zM929 2473.6V2450.9H934.1V2473.6zM934.1 2473.6V2426.6H939.2V2473.6zM939.2 2473.6V2428.4H944.2V2473.6zM944.2 2473.6V2466.8H949.3V2473.6zM949.3 2473.6V2469H954.4V2473.6zM954.4 2473.6V2466.8H959.5V2473.6zM959.5 2473.6V2465.9H964.5V2473.6zM964.5 2473.6V2466.8H969.6V2473.6zM969.6 2473.6V2467.2H974.7V2473.6zM974.7 2473.6V2469.5H979.7V2473.6zM979.7 2473.6V2470.4H984.8V2473.6zM984.8 2473.6V2470.8H989.9V2473.6zM989.9 2473.6V2439.6H995V2473.6zM995 2473.6V2449.2H1000V2473.6zM1000 2473.6V2466.4H1005.1V2473.6zM1005.1 2473.6V2469.5H1012.5V2473.6zM1012.5 2473.6V2464.6H1017.5V2473.6zM1017.5 2473.6V2456.3H1022.6V2473.6zM1022.6 2473.6V2464.1H1027.7V2473.6zM1027.7 2473.6V2464.1H1032.8V2473.6zM1032.8 2473.6V2457.8H1037.8V2473.6zM1037.8 2473.6V2458.7H1042.9V2473.6zM1042.9 2473.6V2469.5H1048V2473.6zM1048 2473.6V2469H1053V2473.6zM1053 2473.6V2461.7H1058.1V2473.6zM1058.1 2473.6V2467.7H1063.2V2473.6zM1063.2 2473.6V2461.7H1068.3V2473.6zM1068.3 2473.6V2470.8H1073.3V2473.6zM1073.3 2473.6V2470.1H1078.4V2473.6zM1078.4 2473.6V2471.3H1083.5V2473.6zM1083.5 2473.6V2471.9H1088.6V2473.6zM1088.6 2473.6V2471.9H1093.6V2473.6zM1093.6 2473.6V2470.8H1098.7V2473.6zM1098.7 2473.6V2470.8H1103.8V2473.6zM1103.8 2473.6V2470.4H1108.8V2473.6zM1108.8 2473.6V2470.8H1113.9V2473.6zM1113.9 2473.6V2471.3H1119V2473.6zM1119 2473.6V2471.3H1124.1V2473.6zM1124.1 2473.6V2471.3H1129.1V2473.6zM1129.1 2473.6V2471.3H1134.2V2473.6zM1134.2 2473.6V2472.2H1139.3V2473.6zM1139.3 2473.6V2471.9H1144.3V2473.6zM1144.3 2473.6V2471.9H1149.4V2473.6zM1149.4 2473.6V2471.9H1154.5V2473.6zM1154.5 2473.6V2471.3H1159.6V2473.6zM1159.6 2473.6V2466.8H1164.6V2473.6zM1164.6 2473.6V2466.4H1169.7V2473.6zM1169.7 2473.6V2466.8H1174.8V2473.6zM1174.8 2473.6V2470.1H1179.9V2473.6zM1179.9 2473.6V2464.1H1184.9V2473.6zM1184.9 2473.6V2464.1H1190V2473.6zM1190 2473.6V2470.8H1195.1V2473.6zM1195.1 2473.6V2472.6H1200.1V2473.6zM1200.1 2473.6V2472.6H1205.2V2473.6zM1205.2 2473.6V2471.9H1210.3V2473.6zM1210.3 2473.6V2471.3H1215.4V2473.6zM1215.4 2473.6V2470.1H1220.4V2473.6zM1220.4 2473.6V2470.1H1225.5V2473.6zM1225.5 2473.6V2470.4H1230.6V2473.6zM1230.6 2473.6V2470.4H1235.7V2473.6zM1235.7 2473.6V2465H1240.7V2473.6zM1240.7 2473.6V2444.2H1245.8V2473.6zM1245.8 2473.6V2447.2H1250.9V2473.6zM1250.9 2473.6V2466.8H1255.9V2473.6zM1255.9 2473.6V2471.3H1261V2473.6zM1261 2473.6V2470.8H1266.1V2473.6zM1266.1 2473.6V2470.1H1271.2V2473.6zM1271.2 2473.6V2472.2H1276.2V2473.6zM1276.2 2473.6V2471.3H1281.3V2473.6zM1281.3 2473.6V2470.1H1286.4V2473.6zM1286.4 2473.6V2471.7H1291.7V2473.6zM1291.7 2473.6V2470.3H1297V2473.6zM1297 2473.6V2471.7H1302.1V2473.6zM1302.1 2473.6V2470.8H1307.1V2473.6zM1307.1 2473.6V2466.3H1312.2V2473.6zM1312.2 2473.6V2465.9H1317.3V2473.6zM1317.3 2473.6V2465.9H1322.5V2473.6zM1322.5 2473.6V2471.4H1327.6V2473.6zM1327.6 2473.6V2471.4H1332.7V2473.6zM1332.7 2473.6V2470.8H1337.8V2473.6zM1337.8 2473.6V2469.9H1342.8V2473.6zM1342.8 2473.6V2460.9H1347.9V2473.6zM1347.9 2473.6V2457.2H1353.2V2473.6zM1353.2 2473.6V2465.9H1358.2V2473.6zM1358.2 2473.6V2469.9H1363.3V2473.6zM1363.3 2473.6V2471.7H1368.4V2473.6zM1368.4 2473.6V2471.4H1373.4V2473.6zM1373.4 2473.6V2470.8H1378.7V2473.6zM1378.7 2473.6V2470.8H1383.8V2473.6zM1383.8 2473.6V2471.4H1388.8V2473.6zM1388.8 2473.6V2470.8H1393.9V2473.6zM1393.9 2473.6V2456.9H1399V2473.6zM1399 2473.6V2463.6H1404.1V2473.6zM1404.1 2473.6V2471.7H1409.3V2473.6zM1409.3 2473.6V2471.4H1414.4V2473.6zM1414.4 2473.6V2470.8H1419.5V2473.6zM1419.5 2473.6V2467.2H1424.5V2473.6zM1424.5 2473.6V2452.7H1429.6V2473.6zM1429.6 2473.6V2465.4H1434.9V2473.6zM1434.9 2473.6V2441.8H1439.9V2473.6zM1439.9 2473.6V2429.2H1445V2473.6zM1445 2473.6V2466.3H1450.1V2473.6zM1450.1 2473.6V2469H1455.1V2473.6zM1455.1 2473.6V2470.8H1460.2V2473.6zM1460.2 2473.6V2471.4H1465.5V2473.6zM1465.5 2473.6V2471.7H1470.5V2473.6zM1470.5 2473.6V2471.7H1475.6V2473.6zM1475.6 2473.6V2472.1H1480.7V2473.6zM1480.7 2473.6V2471.7H1485.8V2473.6zM1485.8 2473.6V2469.6H1491V2473.6zM1491 2473.6V2469.9H1496.1V2473.6zM1496.1 2473.6V2472.1H1501.2V2473.6zM1501.2 2473.6V2472.1H1506.2V2473.6zM1506.2 2473.6V2471.7H1511.3V2473.6zM1511.3 2473.6V2471.4H1516.4V2473.6zM1516.4 2473.6V2466.3H1521.6V2473.6zM1521.6 2473.6V2449.6H1526.7V2473.6zM1526.7 2473.6V2445.5H1531.8V2473.6zM1531.8 2473.6V2384.4H1536.8V2473.6zM1536.8 2473.6V2469.9H1541.9V2473.6zM1541.9 2473.6V2470.3H1547.2V2473.6zM1547.2 2473.6V2469.9H1552.2V2473.6zM1552.2 2473.6V2287.9H1557.3V2473.6zM1557.3 2473.6V2214.1H1562.4V2473.6zM1562.4 2473.6V2456.3H1567.5V2473.6zM1567.5 2473.6V2468.7H1572.6V2473.6zM1572.6 2473.6V2471.4H1577.7V2473.6zM1577.7 2473.6V2469.6H1582.8V2473.6zM1582.8 2473.6V2465H1587.9V2473.6zM1587.9 2473.6V2431.5H1593.1V2473.6zM1593.1 2473.6V2389.9H1598.2V2473.6zM1598.2 2473.6V2311.1H1603.3V2473.6zM1603.3 2473.6V2462.3H1608.3V2473.6zM1608.3 2473.6V2469.6H1613.4V2473.6zM1613.4 2473.6V2471.4H1618.5V2473.6zM1618.5 2473.6V2468.7H1623.6V2473.6zM1623.6 2473.6V2468.7H1628.6V2473.6zM1628.6 2473.6V2468.7H1633.7V2473.6zM1633.7 2473.6V2466.8H1638.8V2473.6zM1638.8 2473.6V2459.6H1643.8V2473.6zM1643.8 2473.6V2436.1H1649.1V2473.6zM1649.1 2473.6V2464.1H1654.2V2473.6zM1654.2 2473.6V2471.4H1659.2V2473.6zM1659.2 2473.6V2466.8H1664.3V2473.6zM1664.3 2473.6V2466.8H1669.4V2473.6zM1669.4 2473.6V2469.6H1674.5V2473.6zM1674.5 2473.6V2461.4H1679.5V2473.6zM1679.5 2473.6V2461.4H1684.6V2473.6zM1684.6 2473.6V2469.6H1689.7V2473.6zM1689.7 2473.6V2400.7H1694.7V2473.6zM1694.7 2473.6V2461.4H1699.8V2473.6zM1699.8 2473.6V2469.6H1705.1V2473.6zM1705.1 2473.6V2470.5H1710.1V2473.6zM1710.1 2473.6V2470.5H1715.2V2473.6zM1715.2 2473.6V2468.7H1720.3V2473.6zM1720.3 2473.6V2467.4H1725.4V2473.6zM1725.4 2473.6V2460.5H1730.4V2473.6zM1730.4 2473.6V2447.8H1735.5V2473.6zM1735.5 2473.6V2451.4H1740.6V2473.6zM1740.6 2473.6V2438.8H1745.7V2473.6zM1745.7 2473.6V2451.8H1750.7V2473.6zM1750.7 2473.6V2451.8H1755.8V2473.6zM1755.8 2473.6V2447.8H1761.1V2473.6zM1761.1 2473.6V2446.9H1766.1V2473.6zM1766.1 2473.6V2456H1771.2V2473.6zM1771.2 2473.6V2454.2H1776.3V2473.6zM1776.3 2473.6V2119H1781.3V2473.6zM1781.3 2473.6V2199.6H1786.4V2473.6zM1786.4 2473.6V2350.9H1791.5V2473.6zM1791.5 2473.6V2340.9H1796.6V2473.6zM1796.6 2473.6V2427H1801.6V2473.6zM1801.6 2473.6V2403.4H1806.7V2473.6zM1806.7 2473.6V2279H1811.8V2473.6zM1811.8 2473.6V2404.3H1817V2473.6zM1817 2473.6V2404.3H1822.1V2473.6zM1822.1 2473.6V2367.2H1827.2V2473.6zM1827.2 2473.6V2274.3H1832.2V2473.6zM1832.2 2473.6V2320.1H1837.3V2473.6zM1837.3 2473.6V2383.5H1842.4V2473.6zM1842.4 2473.6V2386.2H1847.5V2473.6zM1847.5 2473.6V2378.4H1851.3V2473.6zM1851.3 2473.6V2418.7H1856.5V2473.6zM1856.5 2473.6V2448.8H1861.4V2473.6zM1861.4 2473.6V2441.6H1866.6V2473.6zM1866.6 2473.6V2467.4H1871.6V2473.6zM1871.6 2473.6V2469.4H1876.7V2473.6zM1876.7 2473.6V2441.6H1881.9V2473.6zM1881.9 2473.6V2431.6H1886.9V2473.6zM1886.9 2473.6V2459.1H1892V2473.6zM1892 2473.6V2447.1H1897V2473.6zM1897 2473.6V2378.7H1902.2V2473.6zM1902.2 2473.6V2340.5H1907.3V2473.6zM1907.3 2473.6V2313.1H1912.3V2473.6zM1912.3 2473.6V2185.9H1917.5V2473.6zM1917.5 2473.6V2198.8H1922.1V2473.6z" fill="#4293d3"/>
<path d="M159.8 2473.9V2442.1M164.4 2473.9V2442.1M169.5 2473.9V2328.2M174.5 2473.9V2218.7M179.5 2473.9V2295.9M184.7 2473.9V2204.8M189.8 2473.9V2141.3M194.9 2473.9V2321M199.9 2473.9V2309.5M205.1 2473.9V2362.5M210.2 2473.9V2167.7M215.2 2473.9V2324.2M220.3 2473.9V2324.2M225.5 2473.9V2270.7M230.6 2473.9V2136.5M235.6 2473.9V2154.5M240.6 2473.9V2095.3M245.7 2473.9V1978.4M250.9 2473.9V2144.9M256 2473.9V1996.3M261 2473.9V2107.3M266.1 2473.9V2135.3M271.1 2473.9V2197.6M276.3 2473.9V2299.5M281.4 2473.9V2343.3M286.4 2473.9V2394.1M291.5 2473.9V2321.8M296.5 2473.9V2384.5M301.7 2473.9V2437.3M306.8 2473.9V2434.9M311.8 2473.9V2428.9M316.9 2473.9V2404.9M321.9 2473.9V2397.7M327.1 2473.9V2416.9M332.2 2473.9V2397.7M337.2 2473.9V2375M342.3 2473.9V2363M347.3 2473.9V2348.6M352.5 2473.9V2345M357.6 2473.9V2409.7M362.6 2473.9V2397.7M367.7 2473.9V2389.3M372.7 2473.9V2385.7M377.9 2473.9V2451.2M383 2473.9V2246.8M388 2473.9V2233.6M393.1 2473.9V2303.1M398.1 2473.9V2150.9M403.3 2473.9V1892.8M408.4 2473.9V2195.7M413.4 2473.9V2380.9M418.5 2473.9V2427.7M423.5 2473.9V2410.9M428.7 2473.9V2415.7M434.8 2473.9V2297.4M440.2 2473.9V2418.7M445.2 2473.9V2430.9M450.3 2473.9V2443.2M455.4 2473.9V2461.3M460.4 2473.9V2455.9M465.5 2473.9V2350.8M470.6 2473.9V2311.9M475.8 2473.9V2169.6M480.9 2473.9V2234.9M486 2473.9V2136.1M491.1 2473.9V2192.3M496.1 2473.9V2282M501.2 2473.9V2139.2M506.3 2473.9V2371.6M511.3 2473.9V2390.7M516.4 2473.9V2397.9M521.5 2473.9V2306.4M526.6 2473.9V2251.2M531.6 2473.9V2250.3M536.7 2473.9V2179.6M541.8 2473.9V2145.2M546.9 2473.9V2271.1M551.9 2473.9V2269.3M557 2473.9V2310M562.1 2473.9V2244.8M567.1 2473.9V2291.9M572.2 2473.9V2374.7M577.3 2473.9V2429.6M582.4 2473.9V2422.9M587.4 2473.9V2442.3M592.5 2473.9V2372.5M597.6 2473.9V2440.5M602.7 2473.9V2464.9M607.7 2473.9V2467.6M612.8 2473.9V2470.4M617.9 2473.9V2469.5M622.9 2473.9V2454.1M628 2473.9V2449.5M633.1 2473.9V2447.7M638.2 2473.9V2467.6M643.2 2473.9V2453.2M648.3 2473.9V2407M653.4 2473.9V2455.9M658.4 2473.9V2455.9M663.5 2473.9V2422.4M668.6 2473.9V2409.7M673.7 2473.9V2381.6M678.7 2473.9V2379.8M683.8 2473.9V2460.4M688.9 2473.9V2465.8M694 2473.9V2452.2M699 2473.9V2220.4M704.1 2473.9V2326.9M709.2 2473.9V2425.1M714.2 2473.9V2457.3M719.3 2473.9V2468.6M724.4 2473.9V2452.6M729.5 2473.9V2465.8M734.6 2473.9V2458.2M739.7 2473.9V2411.8M744.8 2473.9V2284.8M749.9 2473.9V2372M754.9 2473.9V2353.5M760 2473.9V2363.4M765.1 2473.9V2441M770.2 2473.9V2452.2M775.2 2473.9V2457.1M780.3 2473.9V2461.8M785.4 2473.9V2467.6M790.4 2473.9V2469.8M795.5 2473.9V2472.1M800.6 2473.9V2459.5M805.7 2473.9V2472.7M810.7 2473.9V2469.8M815.8 2473.9V2455.8M820.9 2473.9V2441M825.9 2473.9V2464.9M831 2473.9V2467.6M836.1 2473.9V2471.6M841.2 2473.9V2469.8M846.2 2473.9V2469.8M851.3 2473.9V2468.5M856.4 2473.9V2469.8M861.5 2473.9V2467.6M866.5 2473.9V2440.4M871.6 2473.9V2457.1M876.7 2473.9V2473M881.7 2473.9V2471.6M886.8 2473.9V2468.5M891.9 2473.9V2469.8M897 2473.9V2462.2M902 2473.9V2454.9M907.1 2473.9V2462.5M912.2 2473.9V2465.8M917.3 2473.9V2440.1M922.3 2473.9V2467.2M927.4 2473.9V2468.5M932.5 2473.9V2451.7M937.5 2473.9V2427.4M942.6 2473.9V2429.2M947.7 2473.9V2467.6M952.8 2473.9V2469.8M957.8 2473.9V2467.6M962.9 2473.9V2466.7M968 2473.9V2467.6M973.1 2473.9V2468M978.1 2473.9V2470.3M983.2 2473.9V2471.2M988.3 2473.9V2471.6M993.3 2473.9V2440.4M998.4 2473.9V2450M1003.5 2473.9V2467.2M1010.1 2473.9V2470.3M1015.9 2473.9V2465.4M1021 2473.9V2457.1M1026.1 2473.9V2464.9M1031.1 2473.9V2464.9M1036.2 2473.9V2458.6M1041.3 2473.9V2459.5M1046.3 2473.9V2470.3M1051.4 2473.9V2469.8M1056.5 2473.9V2462.5M1061.6 2473.9V2468.5M1066.6 2473.9V2462.5M1071.7 2473.9V2471.6M1076.8 2473.9V2470.9M1081.9 2473.9V2472.1M1086.9 2473.9V2472.7M1092 2473.9V2472.7M1097.1 2473.9V2471.6M1102.1 2473.9V2471.6M1107.2 2473.9V2471.2M1112.3 2473.9V2471.6M1117.4 2473.9V2472.1M1122.4 2473.9V2472.1M1127.5 2473.9V2472.1M1132.6 2473.9V2472.1M1137.7 2473.9V2473M1142.7 2473.9V2472.7M1147.8 2473.9V2472.7M1152.9 2473.9V2472.7M1157.9 2473.9V2472.1M1163 2473.9V2467.6M1168.1 2473.9V2467.2M1173.2 2473.9V2467.6M1178.2 2473.9V2470.9M1183.3 2473.9V2464.9M1188.4 2473.9V2464.9M1193.4 2473.9V2471.6M1198.5 2473.9V2473.4M1203.6 2473.9V2473.4M1208.7 2473.9V2472.7M1213.7 2473.9V2472.1M1218.8 2473.9V2470.9M1223.9 2473.9V2470.9M1229 2473.9V2471.2M1234 2473.9V2471.2M1239.1 2473.9V2465.8M1244.2 2473.9V2445M1249.2 2473.9V2448M1254.3 2473.9V2467.6M1259.4 2473.9V2472.1M1264.5 2473.9V2471.6M1269.5 2473.9V2470.9M1274.6 2473.9V2473M1279.7 2473.9V2472.1M1284.8 2473.9V2470.9M1290 2473.9V2472.5M1295.3 2473.9V2471.1M1300.4 2473.9V2472.5M1305.5 2473.9V2471.6M1310.6 2473.9V2467.1M1315.7 2473.9V2466.7M1320.9 2473.9V2466.7M1326 2473.9V2472.2M1331.1 2473.9V2472.2M1336.1 2473.9V2471.6M1341.2 2473.9V2470.7M1346.3 2473.9V2461.7M1351.5 2473.9V2458M1356.6 2473.9V2466.7M1361.7 2473.9V2470.7M1366.7 2473.9V2472.5M1371.8 2473.9V2472.2M1377 2473.9V2471.6M1382.1 2473.9V2471.6M1387.2 2473.9V2472.2M1392.3 2473.9V2471.6M1397.4 2473.9V2457.7M1402.4 2473.9V2464.4M1407.6 2473.9V2472.5M1412.8 2473.9V2472.2M1417.8 2473.9V2471.6M1422.9 2473.9V2468M1428 2473.9V2453.5M1433.2 2473.9V2466.2M1438.3 2473.9V2442.6M1443.4 2473.9V2430M1448.4 2473.9V2467.1M1453.5 2473.9V2469.8M1458.6 2473.9V2471.6M1463.8 2473.9V2472.2M1468.9 2473.9V2472.5M1474 2473.9V2472.5M1479.1 2473.9V2472.9M1484.1 2473.9V2472.5M1489.3 2473.9V2470.4M1494.5 2473.9V2470.7M1499.5 2473.9V2472.9M1504.6 2473.9V2472.9M1509.7 2473.9V2472.5M1514.8 2473.9V2472.2M1519.9 2473.9V2467.1M1525.1 2473.9V2450.4M1530.2 2473.9V2446.3M1535.2 2473.9V2385.2M1540.3 2473.9V2470.7M1545.5 2473.9V2471.1M1550.6 2473.9V2470.7M1555.7 2473.9V2288.7M1560.8 2473.9V2214.9M1565.8 2473.9V2457.1M1571 2473.9V2469.5M1576.1 2473.9V2472.2M1581.2 2473.9V2470.4M1586.2 2473.9V2465.8M1591.4 2473.9V2432.3M1596.6 2473.9V2390.7M1601.6 2473.9V2311.9M1606.7 2473.9V2463.1M1611.8 2473.9V2470.4M1616.9 2473.9V2472.2M1621.9 2473.9V2469.5M1627 2473.9V2469.5M1632.1 2473.9V2469.5M1637.1 2473.9V2467.6M1642.2 2473.9V2460.4M1647.4 2473.9V2436.9M1652.5 2473.9V2464.9M1657.6 2473.9V2472.2M1662.7 2473.9V2467.6M1667.8 2473.9V2467.6M1672.8 2473.9V2470.4M1677.9 2473.9V2462.2M1683 2473.9V2462.2M1688.1 2473.9V2470.4M1693.1 2473.9V2401.5M1698.2 2473.9V2462.2M1703.4 2473.9V2470.4M1708.5 2473.9V2471.3M1713.6 2473.9V2471.3M1718.7 2473.9V2469.5M1723.7 2473.9V2468.2M1728.8 2473.9V2461.3M1733.9 2473.9V2448.6M1739 2473.9V2452.2M1744 2473.9V2439.6M1749.1 2473.9V2452.6M1754.2 2473.9V2452.6M1759.4 2473.9V2448.6M1764.5 2473.9V2447.7M1769.6 2473.9V2456.8M1774.6 2473.9V2455M1779.7 2473.9V2119.8M1784.8 2473.9V2200.4M1789.9 2473.9V2351.7M1794.9 2473.9V2341.7M1800 2473.9V2427.8M1805.1 2473.9V2404.2M1810.2 2473.9V2279.8M1815.3 2473.9V2405.1M1820.5 2473.9V2405.1M1825.6 2473.9V2368M1830.6 2473.9V2275.1M1835.7 2473.9V2320.9M1840.8 2473.9V2384.3M1845.8 2473.9V2387M1850.1 2473.9V2379.2M1854.8 2473.9V2419.5M1859.8 2473.9V2449.6M1864.9 2473.9V2442.4M1870 2473.9V2468.2M1875.1 2473.9V2470.2M1880.2 2473.9V2442.4M1885.3 2473.9V2432.4M1890.4 2473.9V2459.9M1895.4 2473.9V2447.9M1900.5 2473.9V2379.5M1905.7 2473.9V2341.3M1910.7 2473.9V2313.9M1915.8 2473.9V2186.7M1920.6 2473.9V2199.6" stroke="#1f80cb" stroke-width="2.2" fill="none"/>
<path d="M157.4 2472.4H1922.1" stroke="#0b3f73" stroke-opacity="0.38" stroke-width="2.4" fill="none"/>
<path d="M378.8 1880.7V2473.9M597.8 1880.7V2473.9M820.6 1880.7V2473.9M1040.4 1880.7V2473.9M1261.6 1880.7V2473.9M1481.5 1880.7V2473.9M1703 1880.7V2473.9" stroke="#000" stroke-opacity="0.05" stroke-width="2.6" fill="none"/>
<path d="M157.4 2354H1923.2M157.4 2236.1H1923.2M157.4 2116.3H1923.2M157.4 1999.1H1923.2" stroke="#000" stroke-opacity="0.05" stroke-width="2.6" fill="none"/>
<g font-family='"Liberation Sans", Arial, Helvetica, sans-serif' font-size="35.6" fill="#262626">
<g text-anchor="middle">
<text x="157.7" y="2521.2" textLength="91.9" lengthAdjust="spacingAndGlyphs">12/06</text>
<text x="379.1" y="2521.2" textLength="91.9" lengthAdjust="spacingAndGlyphs">01/25</text>
<text x="598.1" y="2521.2" textLength="91.9" lengthAdjust="spacingAndGlyphs">03/16</text>
<text x="820.9" y="2521.2" textLength="91.9" lengthAdjust="spacingAndGlyphs">05/05</text>
<text x="1040.7" y="2521.2" textLength="91.9" lengthAdjust="spacingAndGlyphs">06/24</text>
<text x="1261.9" y="2521.2" textLength="91.9" lengthAdjust="spacingAndGlyphs">08/13</text>
<text x="1481.8" y="2521.2" textLength="91.9" lengthAdjust="spacingAndGlyphs">10/02</text>
<text x="1703.3" y="2521.2" textLength="91.9" lengthAdjust="spacingAndGlyphs">11/21</text>
<text x="1923.5" y="2521.2" textLength="91.9" lengthAdjust="spacingAndGlyphs">01/10</text>
</g><g text-anchor="end">
<text x="145.2" y="2487.4" textLength="20.4" lengthAdjust="spacingAndGlyphs">0</text>
<text x="145.2" y="2368.8" textLength="20.4" lengthAdjust="spacingAndGlyphs">5</text>
<text x="145.2" y="2249.8" textLength="40.9" lengthAdjust="spacingAndGlyphs">10</text>
<text x="145.2" y="2131.6" textLength="40.9" lengthAdjust="spacingAndGlyphs">15</text>
<text x="145.2" y="2012.7" textLength="40.9" lengthAdjust="spacingAndGlyphs">20</text>
<text x="145.2" y="1894.7" textLength="40.9" lengthAdjust="spacingAndGlyphs">25</text>
</g>
</g>
<text y="2567.8" font-family='"Liberation Sans", Arial, Helvetica, sans-serif' font-size="39.8" fill="#262626"><tspan x="818.6" textLength="83.4" lengthAdjust="spacingAndGlyphs">Date</tspan> <tspan x="913.2" textLength="160.5" lengthAdjust="spacingAndGlyphs">(mm/dd),</tspan> <tspan x="1084.9" textLength="73.6" lengthAdjust="spacingAndGlyphs">year</tspan> <tspan x="1171.3" textLength="90.6" lengthAdjust="spacingAndGlyphs">2019</tspan></text>
<text transform="translate(88.4 0) rotate(-90)" y="0" font-family='"Liberation Sans", Arial, Helvetica, sans-serif' font-size="40.1" fill="#262626"><tspan x="-2417.1" textLength="222" lengthAdjust="spacingAndGlyphs">precipitation</tspan> <tspan x="-2186.6" textLength="74.6" lengthAdjust="spacingAndGlyphs">rate</tspan> <tspan x="-2104" textLength="165.4" lengthAdjust="spacingAndGlyphs">(mm/day)</tspan></text>
<text y="1863.9" font-family='"Liberation Sans", Arial, Helvetica, sans-serif' font-weight="bold" font-size="46.4" fill="#000"><tspan x="692.9" textLength="179.6" lengthAdjust="spacingAndGlyphs">Average</tspan> <tspan x="886.6">rainfall</tspan> <tspan x="1051.9" textLength="39.9" lengthAdjust="spacingAndGlyphs">in</tspan> <tspan x="1103.1" textLength="285.1" lengthAdjust="spacingAndGlyphs">Mozambique</tspan></text>
<text y="2665.9" text-anchor="middle" font-family='"Liberation Serif", "DejaVu Serif", serif' font-size="84" fill="#000"><tspan x="977.9">(</tspan><tspan x="1010.2" font-weight="bold" font-size="84">c</tspan><tspan x="1043">)</tspan></text>
</g>
</svg></body></html>
